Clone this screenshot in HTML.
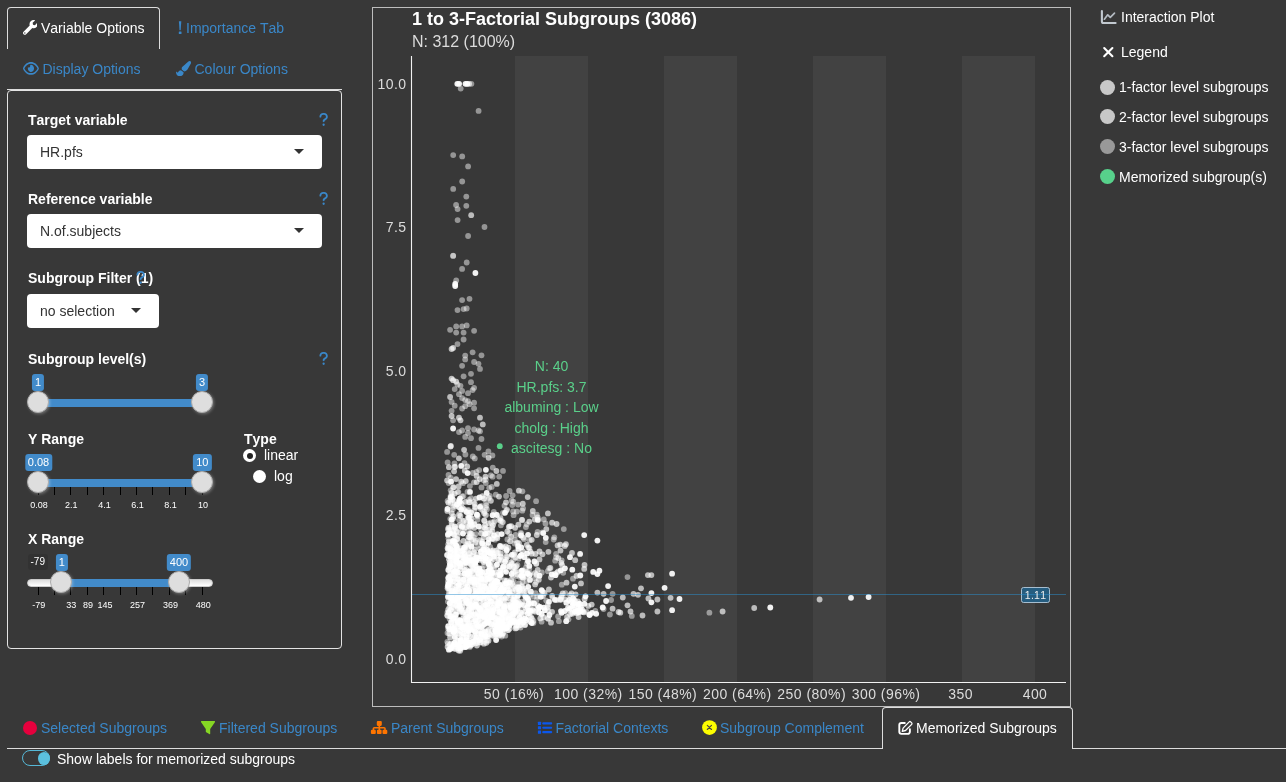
<!DOCTYPE html>
<html>
<head>
<meta charset="utf-8">
<title>Subgroup Explorer</title>
<style>
*{box-sizing:border-box;}
html,body{margin:0;padding:0;}
body{width:1286px;height:782px;overflow:hidden;background:#383838;color:#fff;font-family:"Liberation Sans",sans-serif;font-size:14px;line-height:20px;position:relative;font-kerning:none;}
.abs{position:absolute;}
.t{position:absolute;white-space:nowrap;line-height:20px;}
.blue{color:#3a87c8;}
.b{font-weight:bold;}
.tabact{position:absolute;border:1px solid #ddd;border-bottom:none;border-radius:4px 4px 0 0;}
.hline{position:absolute;height:1px;background:#ddd;}
.well{position:absolute;left:7px;top:90px;width:335px;height:559px;border:1px solid #e3e3e3;border-radius:4px;}
.sel{position:absolute;background:#fff;border-radius:4px;color:#333;height:34px;}
.sel span{position:absolute;left:13px;top:7px;line-height:20px;white-space:nowrap;}
.caret{position:absolute;width:0;height:0;border-left:5px solid transparent;border-right:5px solid transparent;border-top:5px solid #333;}
.trk{position:absolute;height:8px;border-radius:4px;background:linear-gradient(#dedede,#fff);border:1px solid #ccc;}
.bar{position:absolute;height:8px;background:#428bca;}
.hnd{position:absolute;width:22px;height:22px;border-radius:11px;background:#dedede;border:1px solid #ababab;box-shadow:1px 1px 3px rgba(255,255,255,0.3);}
.tag{position:absolute;background:#428bca;color:#fff;font-size:11px;line-height:14.66px;height:16.66px;padding:1px 3px;border-radius:3px;white-space:nowrap;transform:translateX(-50%);}
.mn{position:absolute;background:rgba(0,0,0,0.1);color:#fff;font-size:10px;line-height:13.33px;padding:1px 3px;border-radius:3px;white-space:nowrap;}
.gl{position:absolute;font-size:9px;line-height:10px;color:#fff;white-space:nowrap;transform:translateX(-50%);}
.tick{position:absolute;width:1px;height:8px;background:#000;}
.rad{position:absolute;width:13px;height:13px;border-radius:50%;background:#fff;}
.dot{position:absolute;border-radius:50%;}
</style>
</head>
<body>
<div id="root" style="position:absolute;left:0;top:0;width:1286px;height:782px;will-change:transform;">
<!-- ===== LEFT TOP TABS ===== -->
<div class="tabact" style="left:7px;top:7px;width:153px;height:42px;"></div>
<div class="hline" style="left:7px;top:89px;width:335px;"></div>
<svg class="abs" style="left:22.6px;top:20.2px;" width="14.8" height="14.8" viewBox="0 0 512 512"><path fill="#fff" d="M507.73 109.1c-2.24-9.03-13.54-12.09-20.12-5.51l-74.36 74.36-67.88-11.31-11.31-67.88 74.36-74.36c6.62-6.62 3.43-17.9-5.66-20.16-47.38-11.74-99.55.91-136.58 37.93-39.64 39.64-50.55 97.1-34.05 147.2L18.74 402.76c-24.99 24.99-24.99 65.51 0 90.5 24.99 24.99 65.51 24.99 90.5 0l213.21-213.21c50.12 16.71 107.47 5.68 147.37-34.22 37.07-37.07 49.7-89.32 37.91-136.73zM64 472c-13.25 0-24-10.75-24-24 0-13.26 10.750-24 24-24s24 10.740 24 24c0 13.250-10.750 24-24 24z"/></svg>
<div class="t" style="left:41px;top:18px;">Variable Options</div>
<svg class="abs" style="left:177px;top:20px;" width="7" height="15" viewBox="0 0 7 15"><path fill="#3a87c8" d="M1.900 1.200H4.300L3.650 10.300H2.550Z"/><rect x="1.800" y="11.600" width="2.700" height="2.500" rx=".5" fill="#3a87c8"/></svg>
<div class="t blue" style="left:186px;top:18px;">Importance Tab</div>
<svg class="abs" style="left:23px;top:60px;" width="15.9" height="16.8" viewBox="0 0 576 512" preserveAspectRatio="none"><path fill="#3a87c8" d="M288 144a110.940 110.940 0 0 0-31.240 5 55.400 55.400 0 0 1 7.240 27 56 56 0 0 1-56 56 55.400 55.400 0 0 1-27-7.240A111.710 111.710 0 1 0 288 144zm284.520 97.400C518.290 135.590 410.930 64 288 64S57.680 135.640 3.480 241.410a32.350 32.350 0 0 0 0 29.190C57.710 376.410 165.070 448 288 448s230.320-71.640 284.520-177.410a32.350 32.350 0 0 0 0-29.190zM288 400c-98.650 0-189.090-55-237.930-144C98.910 167 189.340 112 288 112s189.090 55 237.930 144C477.100 345 386.660 400 288 400z"/></svg>
<div class="t blue" style="left:42.5px;top:59px;">Display Options</div>
<svg class="abs" style="left:176.2px;top:61.3px;" width="15.2" height="15.2" viewBox="0 0 512 512"><path fill="#3a87c8" d="M167.020 309.340c-40.120 2.580-76.530 17.860-97.190 72.300-2.350 6.210-8 9.980-14.590 9.980-11.110 0-45.460-27.670-55.250-34.350C0 439.620 37.930 512 128 512c75.860 0 128-43.770 128-120.190 0-3.110-.65-6.080-.97-9.130l-88.010-73.340zM457.890 0c-15.160 0-29.370 6.710-40.210 16.450C213.270 199.050 192 203.340 192 257.090c0 13.700 3.250 26.760 8.730 38.700l63.820 53.180c7.210 1.800 14.640 3.030 22.390 3.030 62.110 0 98.110-45.470 211.160-256.460 7.380-14.350 13.900-29.850 13.900-45.990C512 20.640 486 0 457.890 0z"/></svg>
<div class="t blue" style="left:194.5px;top:59px;">Colour Options</div>

<!-- ===== WELL PANEL ===== -->
<div class="well"></div>
<div class="t b" style="left:28px;top:110px;">Target variable</div>
<div class="sel" style="left:27px;top:135px;width:295px;"><span>HR.pfs</span></div>
<div class="caret" style="left:294px;top:149px;"></div>
<div class="t b" style="left:28px;top:189px;">Reference variable</div>
<div class="sel" style="left:27px;top:214px;width:295px;"><span>N.of.subjects</span></div>
<div class="caret" style="left:294px;top:228px;"></div>
<div class="t b" style="left:28px;top:268px;">Subgroup Filter (1)</div>
<div class="sel" style="left:27px;top:294px;width:132px;"><span>no selection</span></div>
<div class="caret" style="left:131px;top:308px;"></div>
<div class="t b" style="left:28px;top:349px;">Subgroup level(s)</div>
<div class="t b" style="left:28px;top:429px;">Y Range</div>
<div class="t b" style="left:244px;top:429px;">Type</div>
<div class="rad" style="left:243px;top:449px;"><div class="dot" style="left:3.5px;top:3.5px;width:6px;height:6px;background:#222;"></div></div>
<div class="t" style="left:264px;top:445px;">linear</div>
<div class="rad" style="left:253px;top:470px;"></div>
<div class="t" style="left:274px;top:466px;">log</div>
<div class="t b" style="left:28px;top:529px;">X Range</div>

<!-- question marks -->
<svg class="abs" style="left:319.3px;top:112.2px;" width="9.28" height="14.85" viewBox="0 0 320 512"><path id="qm" fill="#3a87c8" d="M80 160c0-35.300 28.700-64 64-64h32c35.300 0 64 28.700 64 64v3.600c0 21.800-11.100 42.100-29.400 53.800l-42.200 27.100c-25.200 16.200-40.400 44.100-40.400 74V320c0 17.700 14.300 32 32 32s32-14.300 32-32v-1.400c0-8.200 4.200-15.800 11-20.200l42.200-27.100c36.600-23.600 58.800-64.100 58.800-107.700V160c0-70.700-57.300-128-128-128H144C73.300 32 16 89.300 16 160c0 17.700 14.300 32 32 32s32-14.300 32-32zm80 320a40 40 0 1 0 0-80 40 40 0 1 0 0 80z"/></svg>
<svg class="abs" style="left:319.3px;top:191.2px;" width="9.28" height="14.85" viewBox="0 0 320 512"><use href="#qm"/></svg>
<svg class="abs" style="left:319.3px;top:351.2px;" width="9.28" height="14.85" viewBox="0 0 320 512"><use href="#qm"/></svg>
<svg class="abs" style="left:136.4px;top:270.1px;" width="9.28" height="14.85" viewBox="0 0 320 512"><use href="#qm"/></svg>

<!-- slider: subgroup levels -->
<div class="bar" style="left:38px;top:399px;width:164px;"></div>
<div class="hnd" style="left:27px;top:391px;"></div>
<div class="hnd" style="left:191px;top:391px;"></div>
<div class="tag" style="left:38px;top:374.4px;">1</div>
<div class="tag" style="left:202px;top:374.4px;">3</div>

<!-- slider: Y range -->
<div class="bar" style="left:38px;top:479px;width:164px;"></div>
<div class="tick" style="left:37.5px;top:487px;"></div><div class="tick" style="left:53.9px;top:487px;"></div><div class="tick" style="left:70.3px;top:487px;"></div><div class="tick" style="left:86.7px;top:487px;"></div><div class="tick" style="left:103.1px;top:487px;"></div><div class="tick" style="left:119.5px;top:487px;"></div><div class="tick" style="left:135.9px;top:487px;"></div><div class="tick" style="left:152.3px;top:487px;"></div><div class="tick" style="left:168.7px;top:487px;"></div><div class="tick" style="left:185.1px;top:487px;"></div><div class="tick" style="left:201.5px;top:487px;"></div>
<div class="hnd" style="left:27px;top:471px;"></div>
<div class="hnd" style="left:191px;top:471px;"></div>
<div class="tag" style="left:38.5px;top:454.4px;">0.08</div>
<div class="tag" style="left:202.3px;top:454.4px;">10</div>
<div class="gl" style="left:39px;top:499.5px;">0.08</div>
<div class="gl" style="left:71.3px;top:499.5px;">2.1</div>
<div class="gl" style="left:104.4px;top:499.5px;">4.1</div>
<div class="gl" style="left:137.4px;top:499.5px;">6.1</div>
<div class="gl" style="left:170.4px;top:499.5px;">8.1</div>
<div class="gl" style="left:203px;top:499.5px;">10</div>

<!-- slider: X range -->
<div class="trk" style="left:27px;top:579px;width:186px;"></div>
<div class="bar" style="left:61px;top:579px;width:118px;"></div>
<div class="tick" style="left:37.5px;top:587px;"></div><div class="tick" style="left:53.9px;top:587px;"></div><div class="tick" style="left:70.3px;top:587px;"></div><div class="tick" style="left:86.7px;top:587px;"></div><div class="tick" style="left:103.1px;top:587px;"></div><div class="tick" style="left:119.5px;top:587px;"></div><div class="tick" style="left:135.9px;top:587px;"></div><div class="tick" style="left:152.3px;top:587px;"></div><div class="tick" style="left:168.7px;top:587px;"></div><div class="tick" style="left:185.1px;top:587px;"></div><div class="tick" style="left:201.5px;top:587px;"></div>
<div class="hnd" style="left:50px;top:571px;"></div>
<div class="hnd" style="left:168px;top:571px;"></div>
<div class="mn" style="left:27.5px;top:554.2px;">-79</div>
<div class="tag" style="left:61.8px;top:554.2px;">1</div>
<div class="tag" style="left:179px;top:554.2px;">400</div>
<div class="gl" style="left:38.7px;top:599.5px;">-79</div>
<div class="gl" style="left:71.3px;top:599.5px;">33</div>
<div class="gl" style="left:88px;top:599.5px;">89</div>
<div class="gl" style="left:105px;top:599.5px;">145</div>
<div class="gl" style="left:137.4px;top:599.5px;">257</div>
<div class="gl" style="left:170.5px;top:599.5px;">369</div>
<div class="gl" style="left:203.2px;top:599.5px;">480</div>

<!-- ===== PLOT ===== -->
<svg id="plot" class="abs" style="left:372px;top:7px;" width="699" height="700" viewBox="372 7 699 700" font-family="Liberation Sans, sans-serif">
<style>#plot circle.b{fill:#fff;fill-opacity:.93}#plot circle.s{fill:#fff;fill-opacity:.66}#plot circle.d{fill:#fff;fill-opacity:.47}#plot circle{r:2.9px}</style>
<rect x="372.500" y="7.500" width="698" height="699" fill="none" stroke="#bdbdbd" stroke-width="1"/>
<g fill="#424242"><rect x="515" y="56" width="73" height="626"/><rect x="664" y="56" width="73" height="626"/><rect x="813" y="56" width="73" height="626"/><rect x="962" y="56" width="73" height="626"/></g>
<text x="412" y="24.700" font-size="18" font-weight="bold" fill="#fff">1 to 3-Factorial Subgroups (3086)</text>
<text x="412" y="47" font-size="16" fill="#dcdcdc">N: 312 (100%)</text>
<g font-size="14" fill="#dcdcdc" text-anchor="end" letter-spacing="0.4">
<text x="406.4" y="88.700">10.0</text><text x="406.4" y="232.400">7.5</text><text x="406.4" y="376.200">5.0</text><text x="406.4" y="519.900">2.5</text><text x="406.4" y="663.600">0.0</text>
</g>
<g font-size="14" fill="#dcdcdc" text-anchor="middle" letter-spacing="0.45">
<text x="514" y="698.500">50 (16%)</text><text x="588.400" y="698.500">100 (32%)</text><text x="662.900" y="698.500">150 (48%)</text><text x="737.300" y="698.500">200 (64%)</text><text x="811.700" y="698.500">250 (80%)</text><text x="886.100" y="698.500">300 (96%)</text><text x="960.600" y="698.500">350</text><text x="1035" y="698.500">400</text>
</g>
<g>
<circle class="b" cx="503.0" cy="566.8"/>
<circle class="b" cx="573.4" cy="603.3"/>
<circle class="s" cx="475.5" cy="607.8"/>
<circle class="s" cx="529.4" cy="548.1"/>
<circle class="d" cx="521.2" cy="534.0"/>
<circle class="s" cx="521.7" cy="614.8"/>
<circle class="s" cx="458.2" cy="554.5"/>
<circle class="d" cx="536.5" cy="600.0"/>
<circle class="d" cx="447.3" cy="641.8"/>
<circle class="d" cx="536.5" cy="575.0"/>
<circle class="d" cx="475.0" cy="630.8"/>
<circle class="d" cx="499.0" cy="630.6"/>
<circle class="b" cx="484.3" cy="595.7"/>
<circle class="s" cx="494.2" cy="606.1"/>
<circle class="s" cx="495.5" cy="572.5"/>
<circle class="d" cx="450.8" cy="478.0"/>
<circle class="s" cx="499.3" cy="519.9"/>
<circle class="d" cx="469.9" cy="553.1"/>
<circle class="s" cx="457.2" cy="589.7"/>
<circle class="d" cx="496.7" cy="634.8"/>
<circle class="d" cx="490.3" cy="572.6"/>
<circle class="d" cx="494.3" cy="624.1"/>
<circle class="d" cx="492.4" cy="455.4"/>
<circle class="s" cx="519.3" cy="590.2"/>
<circle class="s" cx="504.3" cy="628.5"/>
<circle class="s" cx="517.8" cy="615.2"/>
<circle class="d" cx="498.1" cy="618.9"/>
<circle class="d" cx="472.8" cy="599.0"/>
<circle class="d" cx="459.7" cy="564.8"/>
<circle class="s" cx="500.9" cy="520.8"/>
<circle class="d" cx="476.0" cy="638.4"/>
<circle class="d" cx="520.5" cy="627.5"/>
<circle class="d" cx="574.7" cy="603.1"/>
<circle class="d" cx="452.7" cy="570.4"/>
<circle class="d" cx="502.6" cy="608.5"/>
<circle class="d" cx="524.8" cy="618.7"/>
<circle class="s" cx="542.3" cy="591.3"/>
<circle class="d" cx="482.9" cy="609.9"/>
<circle class="d" cx="491.8" cy="551.0"/>
<circle class="s" cx="530.9" cy="617.0"/>
<circle class="s" cx="506.6" cy="580.7"/>
<circle class="s" cx="583.1" cy="611.8"/>
<circle class="s" cx="499.8" cy="630.2"/>
<circle class="b" cx="448.6" cy="612.4"/>
<circle class="d" cx="506.5" cy="623.2"/>
<circle class="d" cx="448.1" cy="628.6"/>
<circle class="d" cx="501.3" cy="559.9"/>
<circle class="b" cx="574.8" cy="586.6"/>
<circle class="b" cx="492.2" cy="572.4"/>
<circle class="d" cx="516.1" cy="570.5"/>
<circle class="d" cx="502.9" cy="592.2"/>
<circle class="s" cx="491.6" cy="574.3"/>
<circle class="d" cx="465.3" cy="557.5"/>
<circle class="b" cx="456.7" cy="561.2"/>
<circle class="b" cx="498.1" cy="631.8"/>
<circle class="d" cx="459.3" cy="513.9"/>
<circle class="s" cx="449.1" cy="533.5"/>
<circle class="d" cx="447.6" cy="500.9"/>
<circle class="d" cx="495.1" cy="514.4"/>
<circle class="b" cx="520.6" cy="620.9"/>
<circle class="d" cx="500.7" cy="576.8"/>
<circle class="s" cx="457.0" cy="539.2"/>
<circle class="b" cx="470.1" cy="580.4"/>
<circle class="d" cx="520.2" cy="589.5"/>
<circle class="s" cx="471.3" cy="539.5"/>
<circle class="s" cx="490.0" cy="604.6"/>
<circle class="d" cx="453.6" cy="540.6"/>
<circle class="d" cx="499.2" cy="476.6"/>
<circle class="s" cx="461.2" cy="481.7"/>
<circle class="b" cx="478.8" cy="526.4"/>
<circle class="s" cx="518.7" cy="621.3"/>
<circle class="s" cx="476.6" cy="569.6"/>
<circle class="s" cx="556.7" cy="600.1"/>
<circle class="d" cx="469.6" cy="622.9"/>
<circle class="s" cx="558.3" cy="558.1"/>
<circle class="d" cx="516.4" cy="602.1"/>
<circle class="d" cx="498.4" cy="548.8"/>
<circle class="s" cx="501.1" cy="557.1"/>
<circle class="s" cx="480.4" cy="605.1"/>
<circle class="s" cx="487.7" cy="607.9"/>
<circle class="s" cx="500.8" cy="626.9"/>
<circle class="b" cx="470.7" cy="629.2"/>
<circle class="s" cx="466.1" cy="569.3"/>
<circle class="d" cx="452.9" cy="509.3"/>
<circle class="s" cx="455.4" cy="575.1"/>
<circle class="d" cx="469.7" cy="512.8"/>
<circle class="d" cx="478.7" cy="614.0"/>
<circle class="b" cx="489.2" cy="559.2"/>
<circle class="s" cx="476.6" cy="475.9"/>
<circle class="s" cx="479.4" cy="625.9"/>
<circle class="d" cx="466.0" cy="596.2"/>
<circle class="s" cx="522.9" cy="588.5"/>
<circle class="d" cx="543.8" cy="519.4"/>
<circle class="b" cx="596.2" cy="613.8"/>
<circle class="s" cx="450.2" cy="548.9"/>
<circle class="d" cx="469.8" cy="577.9"/>
<circle class="s" cx="522.8" cy="570.3"/>
<circle class="b" cx="454.9" cy="630.9"/>
<circle class="d" cx="547.6" cy="618.1"/>
<circle class="d" cx="448.0" cy="578.3"/>
<circle class="s" cx="522.9" cy="551.3"/>
<circle class="d" cx="484.2" cy="556.8"/>
<circle class="s" cx="477.4" cy="613.0"/>
<circle class="s" cx="460.9" cy="585.1"/>
<circle class="s" cx="560.2" cy="544.6"/>
<circle class="b" cx="465.4" cy="642.2"/>
<circle class="d" cx="503.4" cy="569.7"/>
<circle class="d" cx="514.6" cy="543.6"/>
<circle class="d" cx="462.8" cy="639.8"/>
<circle class="b" cx="493.4" cy="594.0"/>
<circle class="d" cx="469.4" cy="532.3"/>
<circle class="s" cx="473.4" cy="568.2"/>
<circle class="d" cx="470.2" cy="579.0"/>
<circle class="d" cx="561.4" cy="595.7"/>
<circle class="d" cx="529.3" cy="568.8"/>
<circle class="d" cx="477.4" cy="519.7"/>
<circle class="s" cx="525.0" cy="624.9"/>
<circle class="b" cx="515.1" cy="620.6"/>
<circle class="d" cx="465.5" cy="561.3"/>
<circle class="d" cx="469.2" cy="596.7"/>
<circle class="d" cx="476.4" cy="471.9"/>
<circle class="d" cx="490.3" cy="553.5"/>
<circle class="d" cx="467.7" cy="619.7"/>
<circle class="s" cx="499.5" cy="624.1"/>
<circle class="b" cx="448.4" cy="584.0"/>
<circle class="d" cx="486.0" cy="503.0"/>
<circle class="s" cx="570.1" cy="595.1"/>
<circle class="s" cx="526.3" cy="590.8"/>
<circle class="b" cx="496.6" cy="625.8"/>
<circle class="d" cx="475.8" cy="540.7"/>
<circle class="s" cx="469.7" cy="600.1"/>
<circle class="d" cx="490.8" cy="575.9"/>
<circle class="s" cx="456.7" cy="531.5"/>
<circle class="s" cx="454.6" cy="526.4"/>
<circle class="b" cx="457.3" cy="549.9"/>
<circle class="s" cx="490.9" cy="566.7"/>
<circle class="d" cx="468.2" cy="509.9"/>
<circle class="s" cx="503.0" cy="590.9"/>
<circle class="d" cx="536.1" cy="501.2"/>
<circle class="d" cx="477.1" cy="579.1"/>
<circle class="s" cx="533.6" cy="610.7"/>
<circle class="b" cx="500.8" cy="603.6"/>
<circle class="s" cx="458.9" cy="458.3"/>
<circle class="d" cx="514.9" cy="540.0"/>
<circle class="d" cx="484.5" cy="498.5"/>
<circle class="b" cx="524.4" cy="557.2"/>
<circle class="d" cx="480.7" cy="552.0"/>
<circle class="s" cx="454.9" cy="630.6"/>
<circle class="s" cx="509.6" cy="624.9"/>
<circle class="b" cx="496.9" cy="581.4"/>
<circle class="d" cx="471.0" cy="571.2"/>
<circle class="s" cx="552.1" cy="522.7"/>
<circle class="b" cx="496.0" cy="581.2"/>
<circle class="d" cx="482.4" cy="510.1"/>
<circle class="s" cx="480.6" cy="579.6"/>
<circle class="d" cx="515.9" cy="576.2"/>
<circle class="b" cx="504.1" cy="609.1"/>
<circle class="s" cx="463.5" cy="591.2"/>
<circle class="b" cx="494.7" cy="596.5"/>
<circle class="b" cx="519.1" cy="605.3"/>
<circle class="d" cx="456.7" cy="562.7"/>
<circle class="d" cx="464.2" cy="509.3"/>
<circle class="s" cx="470.1" cy="598.4"/>
<circle class="b" cx="481.2" cy="556.4"/>
<circle class="b" cx="566.2" cy="621.2"/>
<circle class="s" cx="561.3" cy="562.8"/>
<circle class="s" cx="584.5" cy="564.9"/>
<circle class="s" cx="538.8" cy="579.7"/>
<circle class="s" cx="473.1" cy="606.5"/>
<circle class="s" cx="511.1" cy="562.3"/>
<circle class="d" cx="449.9" cy="527.6"/>
<circle class="s" cx="447.1" cy="480.4"/>
<circle class="d" cx="486.8" cy="601.9"/>
<circle class="d" cx="514.4" cy="611.3"/>
<circle class="b" cx="462.3" cy="627.2"/>
<circle class="d" cx="511.6" cy="500.5"/>
<circle class="d" cx="469.6" cy="606.0"/>
<circle class="d" cx="448.3" cy="533.6"/>
<circle class="d" cx="453.0" cy="487.7"/>
<circle class="s" cx="456.1" cy="479.1"/>
<circle class="b" cx="470.0" cy="491.9"/>
<circle class="d" cx="536.2" cy="582.1"/>
<circle class="b" cx="474.5" cy="595.2"/>
<circle class="d" cx="481.1" cy="505.8"/>
<circle class="s" cx="468.6" cy="609.9"/>
<circle class="s" cx="509.2" cy="619.0"/>
<circle class="d" cx="573.3" cy="609.7"/>
<circle class="d" cx="541.6" cy="621.7"/>
<circle class="b" cx="494.5" cy="582.6"/>
<circle class="d" cx="484.1" cy="638.9"/>
<circle class="s" cx="537.6" cy="517.5"/>
<circle class="b" cx="475.0" cy="605.0"/>
<circle class="b" cx="488.6" cy="570.7"/>
<circle class="s" cx="476.1" cy="581.8"/>
<circle class="s" cx="511.2" cy="526.2"/>
<circle class="s" cx="479.8" cy="479.1"/>
<circle class="d" cx="471.6" cy="525.5"/>
<circle class="s" cx="463.5" cy="540.8"/>
<circle class="s" cx="452.5" cy="626.9"/>
<circle class="s" cx="459.7" cy="626.9"/>
<circle class="d" cx="521.9" cy="593.3"/>
<circle class="s" cx="504.5" cy="607.6"/>
<circle class="s" cx="463.5" cy="637.0"/>
<circle class="d" cx="581.6" cy="611.4"/>
<circle class="d" cx="457.4" cy="536.5"/>
<circle class="d" cx="458.1" cy="582.5"/>
<circle class="s" cx="509.5" cy="592.5"/>
<circle class="d" cx="450.0" cy="567.6"/>
<circle class="d" cx="507.3" cy="588.9"/>
<circle class="b" cx="476.6" cy="580.2"/>
<circle class="d" cx="458.4" cy="632.8"/>
<circle class="d" cx="474.3" cy="586.1"/>
<circle class="s" cx="491.2" cy="584.6"/>
<circle class="d" cx="482.9" cy="625.3"/>
<circle class="d" cx="491.5" cy="635.7"/>
<circle class="d" cx="498.9" cy="611.6"/>
<circle class="s" cx="473.0" cy="577.2"/>
<circle class="d" cx="464.0" cy="563.0"/>
<circle class="s" cx="535.1" cy="584.4"/>
<circle class="d" cx="498.8" cy="572.7"/>
<circle class="s" cx="451.9" cy="496.4"/>
<circle class="d" cx="478.0" cy="545.7"/>
<circle class="s" cx="512.3" cy="617.0"/>
<circle class="s" cx="502.2" cy="584.4"/>
<circle class="d" cx="466.0" cy="544.8"/>
<circle class="d" cx="486.4" cy="505.5"/>
<circle class="s" cx="486.4" cy="575.9"/>
<circle class="s" cx="478.8" cy="574.4"/>
<circle class="s" cx="514.5" cy="604.1"/>
<circle class="s" cx="452.9" cy="646.9"/>
<circle class="b" cx="460.3" cy="563.4"/>
<circle class="d" cx="460.1" cy="623.7"/>
<circle class="d" cx="541.8" cy="572.5"/>
<circle class="s" cx="466.2" cy="527.3"/>
<circle class="s" cx="458.5" cy="630.9"/>
<circle class="s" cx="560.5" cy="599.1"/>
<circle class="d" cx="469.4" cy="643.1"/>
<circle class="d" cx="496.5" cy="610.6"/>
<circle class="s" cx="451.3" cy="643.5"/>
<circle class="d" cx="523.1" cy="508.5"/>
<circle class="d" cx="494.2" cy="566.1"/>
<circle class="s" cx="515.4" cy="628.4"/>
<circle class="s" cx="497.6" cy="591.9"/>
<circle class="d" cx="457.3" cy="557.6"/>
<circle class="b" cx="501.1" cy="593.8"/>
<circle class="s" cx="475.6" cy="643.3"/>
<circle class="b" cx="549.4" cy="615.0"/>
<circle class="d" cx="451.7" cy="597.8"/>
<circle class="d" cx="525.8" cy="597.6"/>
<circle class="d" cx="497.9" cy="534.7"/>
<circle class="d" cx="577.3" cy="606.7"/>
<circle class="d" cx="464.3" cy="570.8"/>
<circle class="b" cx="481.0" cy="574.5"/>
<circle class="d" cx="450.4" cy="551.7"/>
<circle class="s" cx="468.1" cy="623.3"/>
<circle class="s" cx="456.7" cy="586.3"/>
<circle class="s" cx="522.5" cy="577.2"/>
<circle class="b" cx="528.0" cy="599.3"/>
<circle class="b" cx="486.5" cy="588.7"/>
<circle class="d" cx="496.0" cy="601.1"/>
<circle class="b" cx="580.3" cy="575.5"/>
<circle class="d" cx="475.0" cy="571.3"/>
<circle class="d" cx="472.0" cy="630.1"/>
<circle class="s" cx="463.1" cy="618.5"/>
<circle class="s" cx="453.0" cy="581.3"/>
<circle class="d" cx="466.0" cy="575.5"/>
<circle class="d" cx="484.5" cy="553.3"/>
<circle class="s" cx="476.6" cy="570.6"/>
<circle class="d" cx="454.9" cy="547.5"/>
<circle class="b" cx="487.5" cy="622.5"/>
<circle class="d" cx="466.5" cy="578.4"/>
<circle class="s" cx="515.3" cy="622.7"/>
<circle class="b" cx="522.4" cy="575.5"/>
<circle class="d" cx="514.5" cy="607.9"/>
<circle class="s" cx="575.8" cy="609.7"/>
<circle class="d" cx="464.4" cy="531.6"/>
<circle class="b" cx="469.0" cy="590.5"/>
<circle class="s" cx="451.7" cy="513.2"/>
<circle class="d" cx="507.5" cy="557.1"/>
<circle class="s" cx="508.4" cy="589.3"/>
<circle class="s" cx="547.8" cy="607.3"/>
<circle class="d" cx="500.5" cy="556.4"/>
<circle class="b" cx="549.0" cy="601.8"/>
<circle class="d" cx="575.4" cy="601.9"/>
<circle class="b" cx="469.1" cy="571.5"/>
<circle class="s" cx="504.4" cy="598.7"/>
<circle class="s" cx="576.5" cy="613.2"/>
<circle class="d" cx="469.7" cy="613.2"/>
<circle class="s" cx="497.1" cy="615.0"/>
<circle class="b" cx="545.8" cy="537.8"/>
<circle class="d" cx="493.1" cy="625.7"/>
<circle class="d" cx="497.1" cy="617.5"/>
<circle class="s" cx="497.1" cy="593.7"/>
<circle class="d" cx="462.6" cy="627.4"/>
<circle class="s" cx="589.3" cy="614.3"/>
<circle class="s" cx="540.3" cy="618.4"/>
<circle class="b" cx="578.4" cy="610.4"/>
<circle class="b" cx="528.8" cy="603.5"/>
<circle class="b" cx="539.0" cy="612.5"/>
<circle class="b" cx="530.5" cy="610.6"/>
<circle class="s" cx="572.1" cy="613.7"/>
<circle class="b" cx="471.3" cy="611.4"/>
<circle class="s" cx="524.2" cy="605.1"/>
<circle class="d" cx="450.7" cy="559.6"/>
<circle class="d" cx="494.7" cy="582.3"/>
<circle class="b" cx="500.1" cy="575.0"/>
<circle class="d" cx="461.0" cy="623.0"/>
<circle class="b" cx="554.9" cy="599.8"/>
<circle class="s" cx="459.5" cy="524.9"/>
<circle class="s" cx="588.3" cy="605.9"/>
<circle class="d" cx="496.5" cy="575.4"/>
<circle class="b" cx="460.4" cy="566.8"/>
<circle class="s" cx="475.5" cy="542.4"/>
<circle class="b" cx="475.4" cy="620.2"/>
<circle class="b" cx="526.6" cy="620.0"/>
<circle class="d" cx="473.3" cy="539.3"/>
<circle class="b" cx="492.8" cy="588.2"/>
<circle class="s" cx="531.7" cy="553.7"/>
<circle class="s" cx="513.0" cy="616.2"/>
<circle class="d" cx="473.5" cy="582.1"/>
<circle class="s" cx="488.7" cy="571.2"/>
<circle class="b" cx="540.8" cy="596.8"/>
<circle class="d" cx="500.9" cy="561.1"/>
<circle class="s" cx="492.1" cy="527.5"/>
<circle class="b" cx="489.7" cy="577.9"/>
<circle class="s" cx="455.7" cy="528.8"/>
<circle class="s" cx="454.0" cy="541.2"/>
<circle class="s" cx="461.6" cy="503.8"/>
<circle class="s" cx="522.8" cy="503.7"/>
<circle class="d" cx="491.3" cy="522.4"/>
<circle class="d" cx="480.8" cy="540.6"/>
<circle class="s" cx="571.5" cy="602.0"/>
<circle class="b" cx="511.8" cy="620.7"/>
<circle class="d" cx="514.6" cy="567.1"/>
<circle class="b" cx="451.1" cy="481.7"/>
<circle class="d" cx="535.5" cy="593.2"/>
<circle class="d" cx="471.3" cy="580.2"/>
<circle class="b" cx="528.8" cy="610.8"/>
<circle class="b" cx="469.7" cy="642.3"/>
<circle class="d" cx="468.7" cy="544.4"/>
<circle class="s" cx="449.3" cy="566.9"/>
<circle class="s" cx="460.4" cy="630.5"/>
<circle class="s" cx="453.6" cy="487.2"/>
<circle class="b" cx="459.7" cy="605.4"/>
<circle class="d" cx="465.8" cy="562.1"/>
<circle class="b" cx="496.9" cy="515.0"/>
<circle class="d" cx="454.4" cy="591.7"/>
<circle class="s" cx="472.9" cy="604.2"/>
<circle class="b" cx="466.6" cy="512.1"/>
<circle class="d" cx="464.7" cy="555.4"/>
<circle class="d" cx="479.3" cy="585.2"/>
<circle class="s" cx="511.2" cy="579.8"/>
<circle class="d" cx="452.5" cy="499.4"/>
<circle class="d" cx="509.8" cy="591.9"/>
<circle class="d" cx="513.3" cy="501.7"/>
<circle class="d" cx="454.9" cy="591.6"/>
<circle class="s" cx="498.3" cy="627.1"/>
<circle class="d" cx="479.2" cy="539.8"/>
<circle class="d" cx="533.4" cy="622.9"/>
<circle class="d" cx="455.0" cy="535.5"/>
<circle class="d" cx="507.6" cy="617.3"/>
<circle class="s" cx="497.8" cy="620.1"/>
<circle class="d" cx="473.6" cy="569.4"/>
<circle class="s" cx="516.5" cy="627.9"/>
<circle class="b" cx="486.7" cy="493.0"/>
<circle class="s" cx="511.8" cy="610.2"/>
<circle class="d" cx="485.9" cy="637.3"/>
<circle class="s" cx="450.6" cy="572.9"/>
<circle class="s" cx="477.7" cy="597.0"/>
<circle class="s" cx="536.3" cy="563.4"/>
<circle class="s" cx="480.8" cy="589.4"/>
<circle class="s" cx="572.0" cy="552.9"/>
<circle class="d" cx="486.6" cy="578.7"/>
<circle class="b" cx="495.3" cy="586.2"/>
<circle class="s" cx="561.5" cy="596.7"/>
<circle class="s" cx="514.2" cy="606.3"/>
<circle class="d" cx="502.5" cy="624.9"/>
<circle class="d" cx="455.6" cy="639.5"/>
<circle class="s" cx="476.1" cy="576.7"/>
<circle class="b" cx="467.8" cy="625.9"/>
<circle class="s" cx="522.4" cy="620.1"/>
<circle class="d" cx="518.6" cy="558.7"/>
<circle class="d" cx="486.6" cy="544.9"/>
<circle class="s" cx="468.5" cy="537.1"/>
<circle class="s" cx="484.6" cy="533.8"/>
<circle class="s" cx="462.1" cy="640.5"/>
<circle class="s" cx="457.1" cy="547.4"/>
<circle class="d" cx="454.0" cy="500.6"/>
<circle class="s" cx="471.1" cy="642.3"/>
<circle class="b" cx="485.3" cy="552.9"/>
<circle class="b" cx="474.4" cy="582.8"/>
<circle class="s" cx="474.3" cy="524.3"/>
<circle class="d" cx="523.3" cy="590.5"/>
<circle class="d" cx="468.5" cy="548.2"/>
<circle class="s" cx="466.7" cy="632.8"/>
<circle class="b" cx="564.9" cy="568.3"/>
<circle class="d" cx="488.0" cy="599.9"/>
<circle class="b" cx="540.0" cy="606.8"/>
<circle class="b" cx="527.6" cy="613.6"/>
<circle class="s" cx="451.6" cy="522.8"/>
<circle class="s" cx="462.6" cy="595.4"/>
<circle class="s" cx="459.6" cy="507.3"/>
<circle class="b" cx="447.5" cy="509.0"/>
<circle class="b" cx="455.0" cy="600.0"/>
<circle class="s" cx="455.9" cy="591.9"/>
<circle class="d" cx="479.1" cy="640.3"/>
<circle class="b" cx="543.3" cy="533.1"/>
<circle class="s" cx="482.9" cy="593.0"/>
<circle class="d" cx="556.1" cy="553.8"/>
<circle class="b" cx="513.1" cy="599.8"/>
<circle class="d" cx="483.8" cy="616.5"/>
<circle class="d" cx="481.2" cy="529.7"/>
<circle class="s" cx="478.1" cy="573.2"/>
<circle class="s" cx="474.7" cy="632.8"/>
<circle class="d" cx="512.8" cy="575.8"/>
<circle class="b" cx="493.5" cy="610.0"/>
<circle class="b" cx="579.6" cy="603.6"/>
<circle class="s" cx="447.7" cy="586.6"/>
<circle class="s" cx="516.2" cy="602.3"/>
<circle class="s" cx="456.8" cy="551.1"/>
<circle class="d" cx="495.9" cy="585.6"/>
<circle class="b" cx="569.1" cy="600.0"/>
<circle class="d" cx="573.0" cy="578.7"/>
<circle class="d" cx="460.7" cy="559.1"/>
<circle class="s" cx="482.5" cy="496.1"/>
<circle class="d" cx="502.6" cy="546.5"/>
<circle class="s" cx="493.9" cy="559.1"/>
<circle class="s" cx="487.3" cy="611.4"/>
<circle class="s" cx="463.8" cy="597.1"/>
<circle class="b" cx="459.6" cy="501.9"/>
<circle class="d" cx="505.4" cy="592.7"/>
<circle class="s" cx="453.5" cy="547.5"/>
<circle class="d" cx="526.0" cy="567.4"/>
<circle class="b" cx="502.4" cy="619.5"/>
<circle class="s" cx="525.4" cy="572.5"/>
<circle class="s" cx="568.1" cy="607.9"/>
<circle class="b" cx="490.7" cy="612.0"/>
<circle class="s" cx="471.7" cy="644.3"/>
<circle class="s" cx="468.0" cy="617.6"/>
<circle class="s" cx="456.2" cy="554.9"/>
<circle class="s" cx="485.9" cy="617.4"/>
<circle class="s" cx="548.4" cy="551.8"/>
<circle class="d" cx="503.5" cy="627.3"/>
<circle class="d" cx="462.5" cy="525.9"/>
<circle class="s" cx="578.4" cy="607.2"/>
<circle class="b" cx="566.3" cy="602.7"/>
<circle class="b" cx="450.7" cy="648.8"/>
<circle class="b" cx="475.4" cy="631.7"/>
<circle class="d" cx="475.9" cy="623.1"/>
<circle class="d" cx="453.3" cy="577.6"/>
<circle class="d" cx="483.5" cy="600.6"/>
<circle class="d" cx="469.3" cy="636.4"/>
<circle class="s" cx="503.7" cy="566.6"/>
<circle class="b" cx="541.6" cy="590.1"/>
<circle class="d" cx="455.9" cy="562.0"/>
<circle class="s" cx="500.3" cy="590.5"/>
<circle class="d" cx="476.2" cy="558.2"/>
<circle class="s" cx="485.1" cy="616.1"/>
<circle class="s" cx="514.8" cy="552.4"/>
<circle class="s" cx="479.9" cy="619.0"/>
<circle class="s" cx="568.1" cy="608.0"/>
<circle class="b" cx="461.2" cy="465.9"/>
<circle class="s" cx="497.0" cy="555.7"/>
<circle class="d" cx="483.0" cy="560.6"/>
<circle class="s" cx="466.9" cy="619.9"/>
<circle class="d" cx="517.2" cy="591.7"/>
<circle class="s" cx="491.9" cy="553.4"/>
<circle class="d" cx="454.3" cy="595.6"/>
<circle class="d" cx="483.8" cy="480.3"/>
<circle class="s" cx="457.3" cy="640.3"/>
<circle class="s" cx="512.5" cy="608.8"/>
<circle class="s" cx="484.3" cy="583.5"/>
<circle class="s" cx="458.0" cy="648.4"/>
<circle class="s" cx="490.7" cy="601.4"/>
<circle class="s" cx="513.6" cy="566.4"/>
<circle class="s" cx="496.5" cy="550.6"/>
<circle class="s" cx="460.3" cy="624.4"/>
<circle class="s" cx="465.7" cy="623.5"/>
<circle class="d" cx="452.7" cy="632.0"/>
<circle class="s" cx="519.1" cy="625.5"/>
<circle class="d" cx="504.9" cy="570.0"/>
<circle class="d" cx="470.2" cy="625.9"/>
<circle class="b" cx="458.8" cy="584.6"/>
<circle class="s" cx="465.7" cy="614.6"/>
<circle class="b" cx="476.2" cy="637.1"/>
<circle class="d" cx="499.2" cy="559.4"/>
<circle class="d" cx="546.2" cy="600.6"/>
<circle class="b" cx="478.2" cy="584.9"/>
<circle class="b" cx="463.4" cy="629.2"/>
<circle class="s" cx="578.8" cy="604.3"/>
<circle class="d" cx="486.0" cy="623.9"/>
<circle class="d" cx="502.3" cy="614.4"/>
<circle class="b" cx="449.9" cy="576.4"/>
<circle class="d" cx="498.3" cy="553.0"/>
<circle class="s" cx="510.4" cy="607.2"/>
<circle class="s" cx="465.7" cy="647.1"/>
<circle class="s" cx="534.8" cy="519.6"/>
<circle class="s" cx="575.2" cy="560.2"/>
<circle class="d" cx="448.7" cy="577.4"/>
<circle class="b" cx="450.9" cy="598.2"/>
<circle class="b" cx="451.1" cy="622.2"/>
<circle class="d" cx="489.8" cy="495.9"/>
<circle class="b" cx="475.7" cy="565.7"/>
<circle class="d" cx="512.0" cy="569.4"/>
<circle class="b" cx="506.0" cy="618.0"/>
<circle class="d" cx="477.4" cy="642.8"/>
<circle class="b" cx="469.6" cy="573.2"/>
<circle class="d" cx="448.1" cy="544.3"/>
<circle class="b" cx="500.2" cy="570.3"/>
<circle class="b" cx="464.3" cy="592.8"/>
<circle class="d" cx="481.7" cy="593.8"/>
<circle class="d" cx="517.8" cy="605.3"/>
<circle class="b" cx="479.7" cy="609.6"/>
<circle class="s" cx="453.0" cy="604.3"/>
<circle class="b" cx="527.5" cy="607.1"/>
<circle class="d" cx="511.3" cy="602.0"/>
<circle class="b" cx="463.2" cy="633.6"/>
<circle class="d" cx="494.6" cy="521.0"/>
<circle class="d" cx="496.9" cy="537.1"/>
<circle class="s" cx="450.1" cy="637.4"/>
<circle class="d" cx="586.5" cy="611.6"/>
<circle class="b" cx="494.6" cy="588.1"/>
<circle class="d" cx="497.7" cy="624.7"/>
<circle class="d" cx="457.7" cy="492.1"/>
<circle class="b" cx="504.7" cy="612.2"/>
<circle class="s" cx="508.5" cy="623.7"/>
<circle class="s" cx="492.1" cy="630.7"/>
<circle class="s" cx="515.4" cy="612.4"/>
<circle class="d" cx="460.2" cy="502.4"/>
<circle class="d" cx="471.7" cy="590.0"/>
<circle class="s" cx="476.8" cy="554.8"/>
<circle class="b" cx="463.5" cy="579.5"/>
<circle class="d" cx="450.0" cy="602.3"/>
<circle class="d" cx="460.3" cy="640.8"/>
<circle class="d" cx="479.9" cy="624.4"/>
<circle class="d" cx="480.0" cy="588.4"/>
<circle class="s" cx="447.6" cy="548.2"/>
<circle class="s" cx="487.4" cy="579.1"/>
<circle class="d" cx="513.8" cy="596.6"/>
<circle class="b" cx="541.6" cy="613.9"/>
<circle class="b" cx="482.2" cy="543.5"/>
<circle class="d" cx="457.1" cy="605.3"/>
<circle class="s" cx="454.7" cy="493.6"/>
<circle class="s" cx="507.9" cy="615.3"/>
<circle class="d" cx="531.0" cy="604.9"/>
<circle class="b" cx="518.9" cy="587.5"/>
<circle class="d" cx="467.5" cy="491.8"/>
<circle class="s" cx="471.2" cy="522.2"/>
<circle class="b" cx="456.5" cy="545.8"/>
<circle class="d" cx="469.8" cy="646.9"/>
<circle class="s" cx="488.5" cy="640.7"/>
<circle class="s" cx="448.9" cy="578.2"/>
<circle class="s" cx="454.1" cy="471.3"/>
<circle class="s" cx="474.5" cy="568.1"/>
<circle class="s" cx="491.3" cy="624.4"/>
<circle class="s" cx="469.2" cy="526.4"/>
<circle class="s" cx="466.0" cy="583.5"/>
<circle class="s" cx="464.5" cy="569.8"/>
<circle class="b" cx="451.2" cy="594.7"/>
<circle class="s" cx="471.8" cy="627.5"/>
<circle class="d" cx="512.3" cy="505.0"/>
<circle class="d" cx="489.3" cy="529.7"/>
<circle class="s" cx="467.0" cy="582.6"/>
<circle class="d" cx="513.6" cy="515.2"/>
<circle class="b" cx="476.3" cy="560.5"/>
<circle class="b" cx="505.1" cy="561.6"/>
<circle class="d" cx="468.4" cy="592.5"/>
<circle class="s" cx="471.9" cy="585.4"/>
<circle class="b" cx="539.5" cy="575.7"/>
<circle class="b" cx="528.1" cy="534.8"/>
<circle class="s" cx="487.7" cy="533.3"/>
<circle class="s" cx="500.8" cy="553.5"/>
<circle class="d" cx="488.4" cy="635.8"/>
<circle class="d" cx="506.9" cy="612.5"/>
<circle class="d" cx="501.9" cy="622.0"/>
<circle class="s" cx="457.7" cy="622.9"/>
<circle class="s" cx="495.3" cy="604.3"/>
<circle class="s" cx="514.2" cy="595.9"/>
<circle class="d" cx="452.0" cy="579.3"/>
<circle class="s" cx="478.0" cy="626.5"/>
<circle class="s" cx="468.1" cy="543.5"/>
<circle class="d" cx="473.6" cy="502.0"/>
<circle class="d" cx="492.8" cy="538.4"/>
<circle class="d" cx="455.3" cy="614.5"/>
<circle class="b" cx="448.3" cy="570.0"/>
<circle class="s" cx="477.5" cy="606.3"/>
<circle class="s" cx="476.2" cy="589.0"/>
<circle class="b" cx="473.3" cy="641.7"/>
<circle class="d" cx="539.9" cy="595.8"/>
<circle class="b" cx="578.0" cy="604.4"/>
<circle class="b" cx="489.6" cy="567.7"/>
<circle class="s" cx="462.3" cy="606.7"/>
<circle class="b" cx="480.2" cy="571.2"/>
<circle class="d" cx="513.1" cy="511.5"/>
<circle class="d" cx="496.6" cy="565.5"/>
<circle class="s" cx="474.6" cy="558.8"/>
<circle class="b" cx="482.1" cy="572.1"/>
<circle class="s" cx="463.4" cy="602.5"/>
<circle class="d" cx="521.8" cy="519.9"/>
<circle class="s" cx="507.0" cy="509.8"/>
<circle class="s" cx="465.4" cy="501.8"/>
<circle class="d" cx="457.2" cy="538.6"/>
<circle class="d" cx="475.3" cy="635.6"/>
<circle class="d" cx="469.3" cy="514.8"/>
<circle class="s" cx="474.4" cy="563.4"/>
<circle class="s" cx="482.3" cy="586.5"/>
<circle class="s" cx="475.7" cy="590.8"/>
<circle class="s" cx="449.1" cy="608.1"/>
<circle class="d" cx="474.1" cy="537.4"/>
<circle class="d" cx="526.7" cy="524.3"/>
<circle class="s" cx="517.1" cy="610.1"/>
<circle class="s" cx="470.9" cy="564.0"/>
<circle class="s" cx="461.6" cy="593.1"/>
<circle class="s" cx="464.0" cy="550.0"/>
<circle class="d" cx="547.8" cy="571.2"/>
<circle class="d" cx="473.5" cy="590.3"/>
<circle class="b" cx="499.4" cy="620.7"/>
<circle class="b" cx="494.7" cy="594.8"/>
<circle class="d" cx="505.3" cy="635.7"/>
<circle class="s" cx="454.4" cy="626.9"/>
<circle class="d" cx="493.6" cy="632.8"/>
<circle class="d" cx="451.4" cy="615.6"/>
<circle class="b" cx="476.4" cy="624.0"/>
<circle class="d" cx="478.0" cy="569.1"/>
<circle class="b" cx="497.9" cy="605.3"/>
<circle class="s" cx="475.5" cy="614.8"/>
<circle class="d" cx="513.7" cy="581.7"/>
<circle class="d" cx="477.8" cy="595.7"/>
<circle class="b" cx="479.4" cy="568.4"/>
<circle class="d" cx="486.9" cy="509.2"/>
<circle class="s" cx="512.3" cy="591.4"/>
<circle class="s" cx="448.4" cy="577.6"/>
<circle class="d" cx="454.2" cy="454.8"/>
<circle class="s" cx="519.7" cy="603.7"/>
<circle class="s" cx="511.7" cy="620.8"/>
<circle class="b" cx="510.2" cy="607.6"/>
<circle class="d" cx="512.8" cy="621.8"/>
<circle class="s" cx="499.7" cy="592.6"/>
<circle class="s" cx="450.8" cy="615.9"/>
<circle class="s" cx="483.1" cy="549.1"/>
<circle class="s" cx="502.0" cy="618.2"/>
<circle class="d" cx="462.0" cy="588.9"/>
<circle class="s" cx="487.8" cy="631.4"/>
<circle class="d" cx="495.1" cy="587.3"/>
<circle class="s" cx="454.4" cy="550.8"/>
<circle class="d" cx="470.4" cy="569.8"/>
<circle class="s" cx="458.7" cy="562.4"/>
<circle class="d" cx="450.5" cy="597.0"/>
<circle class="d" cx="506.8" cy="588.9"/>
<circle class="s" cx="566.5" cy="582.7"/>
<circle class="b" cx="462.6" cy="550.5"/>
<circle class="d" cx="491.4" cy="592.1"/>
<circle class="d" cx="469.4" cy="588.9"/>
<circle class="s" cx="448.1" cy="549.4"/>
<circle class="b" cx="471.6" cy="546.7"/>
<circle class="d" cx="503.4" cy="565.7"/>
<circle class="s" cx="459.3" cy="605.7"/>
<circle class="s" cx="578.0" cy="601.5"/>
<circle class="s" cx="461.6" cy="634.4"/>
<circle class="d" cx="501.1" cy="634.7"/>
<circle class="s" cx="468.3" cy="628.1"/>
<circle class="d" cx="475.5" cy="573.1"/>
<circle class="b" cx="527.4" cy="573.5"/>
<circle class="d" cx="555.2" cy="560.7"/>
<circle class="d" cx="503.7" cy="597.3"/>
<circle class="s" cx="515.4" cy="613.0"/>
<circle class="s" cx="466.1" cy="626.2"/>
<circle class="b" cx="529.6" cy="575.0"/>
<circle class="d" cx="466.4" cy="560.0"/>
<circle class="s" cx="500.5" cy="518.2"/>
<circle class="s" cx="514.4" cy="621.3"/>
<circle class="b" cx="454.1" cy="628.4"/>
<circle class="s" cx="454.2" cy="600.7"/>
<circle class="d" cx="482.4" cy="596.5"/>
<circle class="s" cx="504.5" cy="619.9"/>
<circle class="b" cx="479.3" cy="590.9"/>
<circle class="d" cx="450.3" cy="518.8"/>
<circle class="s" cx="456.6" cy="605.4"/>
<circle class="d" cx="499.9" cy="594.3"/>
<circle class="d" cx="580.9" cy="612.2"/>
<circle class="d" cx="570.8" cy="608.6"/>
<circle class="b" cx="453.6" cy="571.9"/>
<circle class="d" cx="519.1" cy="583.3"/>
<circle class="s" cx="483.5" cy="562.0"/>
<circle class="s" cx="499.3" cy="577.9"/>
<circle class="b" cx="485.9" cy="469.8"/>
<circle class="s" cx="529.5" cy="613.2"/>
<circle class="s" cx="471.0" cy="615.9"/>
<circle class="d" cx="500.9" cy="525.3"/>
<circle class="s" cx="455.3" cy="605.5"/>
<circle class="s" cx="454.3" cy="574.9"/>
<circle class="s" cx="492.6" cy="552.4"/>
<circle class="d" cx="483.5" cy="600.6"/>
<circle class="d" cx="449.0" cy="629.6"/>
<circle class="s" cx="460.0" cy="600.2"/>
<circle class="s" cx="476.5" cy="592.8"/>
<circle class="d" cx="492.8" cy="579.5"/>
<circle class="d" cx="490.9" cy="475.3"/>
<circle class="d" cx="470.0" cy="527.3"/>
<circle class="d" cx="470.2" cy="515.9"/>
<circle class="s" cx="468.6" cy="593.9"/>
<circle class="b" cx="451.6" cy="519.6"/>
<circle class="b" cx="530.0" cy="579.9"/>
<circle class="d" cx="493.4" cy="635.7"/>
<circle class="b" cx="561.0" cy="611.1"/>
<circle class="d" cx="476.1" cy="592.1"/>
<circle class="s" cx="499.9" cy="602.9"/>
<circle class="d" cx="521.8" cy="610.7"/>
<circle class="s" cx="508.0" cy="598.0"/>
<circle class="d" cx="459.1" cy="519.8"/>
<circle class="d" cx="474.7" cy="523.9"/>
<circle class="d" cx="503.0" cy="624.1"/>
<circle class="d" cx="537.6" cy="531.9"/>
<circle class="d" cx="499.1" cy="618.6"/>
<circle class="s" cx="510.0" cy="624.1"/>
<circle class="s" cx="494.7" cy="601.1"/>
<circle class="s" cx="453.6" cy="585.4"/>
<circle class="b" cx="484.6" cy="624.1"/>
<circle class="s" cx="517.5" cy="608.8"/>
<circle class="d" cx="470.9" cy="535.9"/>
<circle class="d" cx="453.6" cy="578.3"/>
<circle class="s" cx="471.6" cy="606.7"/>
<circle class="s" cx="460.3" cy="554.3"/>
<circle class="b" cx="509.4" cy="582.4"/>
<circle class="s" cx="490.9" cy="603.6"/>
<circle class="s" cx="514.3" cy="586.3"/>
<circle class="b" cx="450.0" cy="596.6"/>
<circle class="s" cx="557.3" cy="572.3"/>
<circle class="b" cx="465.0" cy="557.9"/>
<circle class="b" cx="570.0" cy="557.2"/>
<circle class="b" cx="602.7" cy="607.5"/>
<circle class="s" cx="576.5" cy="575.9"/>
<circle class="d" cx="514.3" cy="619.0"/>
<circle class="s" cx="460.0" cy="569.6"/>
<circle class="s" cx="490.9" cy="500.8"/>
<circle class="b" cx="483.7" cy="549.6"/>
<circle class="b" cx="453.0" cy="542.9"/>
<circle class="d" cx="472.8" cy="626.0"/>
<circle class="s" cx="509.4" cy="593.3"/>
<circle class="d" cx="472.2" cy="640.3"/>
<circle class="d" cx="487.1" cy="580.3"/>
<circle class="s" cx="476.4" cy="600.6"/>
<circle class="b" cx="476.8" cy="514.7"/>
<circle class="s" cx="452.0" cy="628.9"/>
<circle class="b" cx="528.2" cy="586.8"/>
<circle class="b" cx="465.9" cy="562.7"/>
<circle class="s" cx="495.4" cy="634.5"/>
<circle class="d" cx="482.1" cy="568.4"/>
<circle class="s" cx="492.9" cy="607.8"/>
<circle class="s" cx="474.6" cy="581.5"/>
<circle class="d" cx="480.5" cy="631.3"/>
<circle class="s" cx="448.8" cy="541.6"/>
<circle class="s" cx="514.4" cy="605.3"/>
<circle class="d" cx="478.1" cy="633.3"/>
<circle class="b" cx="501.5" cy="612.7"/>
<circle class="b" cx="454.9" cy="541.8"/>
<circle class="s" cx="476.7" cy="482.1"/>
<circle class="b" cx="466.2" cy="646.6"/>
<circle class="b" cx="491.6" cy="573.2"/>
<circle class="s" cx="462.0" cy="526.7"/>
<circle class="s" cx="464.1" cy="449.8"/>
<circle class="s" cx="515.1" cy="622.3"/>
<circle class="s" cx="527.7" cy="497.1"/>
<circle class="s" cx="500.4" cy="630.2"/>
<circle class="d" cx="485.9" cy="583.5"/>
<circle class="s" cx="500.6" cy="612.7"/>
<circle class="b" cx="468.9" cy="517.7"/>
<circle class="d" cx="480.4" cy="638.7"/>
<circle class="s" cx="479.2" cy="639.8"/>
<circle class="b" cx="503.7" cy="591.1"/>
<circle class="s" cx="453.8" cy="535.0"/>
<circle class="b" cx="578.7" cy="612.3"/>
<circle class="s" cx="485.8" cy="579.5"/>
<circle class="s" cx="450.7" cy="610.3"/>
<circle class="s" cx="491.3" cy="602.0"/>
<circle class="d" cx="455.6" cy="590.2"/>
<circle class="b" cx="489.2" cy="579.1"/>
<circle class="s" cx="501.6" cy="589.1"/>
<circle class="s" cx="464.6" cy="587.5"/>
<circle class="s" cx="509.7" cy="526.4"/>
<circle class="d" cx="482.1" cy="636.6"/>
<circle class="d" cx="459.0" cy="629.3"/>
<circle class="b" cx="530.9" cy="591.7"/>
<circle class="d" cx="482.8" cy="589.5"/>
<circle class="b" cx="534.4" cy="561.4"/>
<circle class="s" cx="512.6" cy="602.4"/>
<circle class="s" cx="524.9" cy="624.8"/>
<circle class="s" cx="451.8" cy="591.0"/>
<circle class="d" cx="481.8" cy="575.5"/>
<circle class="s" cx="554.7" cy="573.8"/>
<circle class="d" cx="458.0" cy="637.5"/>
<circle class="s" cx="466.0" cy="629.2"/>
<circle class="b" cx="514.0" cy="605.0"/>
<circle class="s" cx="464.8" cy="646.9"/>
<circle class="d" cx="479.8" cy="589.9"/>
<circle class="b" cx="574.8" cy="611.7"/>
<circle class="d" cx="492.6" cy="611.9"/>
<circle class="b" cx="506.1" cy="571.8"/>
<circle class="d" cx="447.5" cy="633.0"/>
<circle class="b" cx="505.0" cy="512.8"/>
<circle class="s" cx="502.8" cy="522.1"/>
<circle class="s" cx="504.3" cy="626.2"/>
<circle class="d" cx="509.9" cy="614.8"/>
<circle class="d" cx="512.4" cy="616.3"/>
<circle class="s" cx="512.2" cy="583.5"/>
<circle class="d" cx="504.5" cy="505.7"/>
<circle class="d" cx="485.8" cy="483.1"/>
<circle class="s" cx="483.6" cy="606.1"/>
<circle class="s" cx="484.1" cy="612.5"/>
<circle class="s" cx="489.7" cy="617.1"/>
<circle class="b" cx="500.1" cy="631.6"/>
<circle class="b" cx="499.3" cy="612.5"/>
<circle class="d" cx="527.6" cy="560.2"/>
<circle class="s" cx="508.9" cy="586.5"/>
<circle class="s" cx="492.3" cy="539.1"/>
<circle class="d" cx="448.3" cy="596.1"/>
<circle class="b" cx="518.3" cy="622.5"/>
<circle class="s" cx="476.4" cy="598.0"/>
<circle class="d" cx="537.3" cy="596.6"/>
<circle class="s" cx="458.9" cy="500.3"/>
<circle class="d" cx="460.8" cy="548.5"/>
<circle class="d" cx="484.2" cy="565.7"/>
<circle class="b" cx="458.9" cy="602.6"/>
<circle class="b" cx="460.7" cy="639.7"/>
<circle class="d" cx="464.5" cy="463.1"/>
<circle class="d" cx="484.2" cy="511.4"/>
<circle class="s" cx="500.9" cy="628.1"/>
<circle class="b" cx="479.5" cy="497.5"/>
<circle class="s" cx="530.0" cy="621.5"/>
<circle class="s" cx="497.5" cy="633.7"/>
<circle class="d" cx="462.0" cy="496.5"/>
<circle class="s" cx="503.4" cy="627.8"/>
<circle class="d" cx="467.8" cy="602.3"/>
<circle class="s" cx="458.4" cy="596.0"/>
<circle class="b" cx="497.7" cy="582.0"/>
<circle class="d" cx="469.4" cy="610.8"/>
<circle class="s" cx="470.0" cy="582.3"/>
<circle class="s" cx="447.2" cy="615.3"/>
<circle class="d" cx="507.4" cy="539.5"/>
<circle class="d" cx="534.9" cy="578.6"/>
<circle class="b" cx="453.5" cy="600.2"/>
<circle class="d" cx="495.8" cy="494.7"/>
<circle class="s" cx="453.8" cy="560.9"/>
<circle class="s" cx="492.8" cy="607.7"/>
<circle class="s" cx="513.4" cy="588.5"/>
<circle class="s" cx="490.1" cy="634.6"/>
<circle class="d" cx="517.4" cy="565.0"/>
<circle class="d" cx="503.0" cy="512.9"/>
<circle class="b" cx="459.2" cy="563.7"/>
<circle class="b" cx="573.1" cy="598.5"/>
<circle class="b" cx="480.1" cy="506.9"/>
<circle class="s" cx="487.8" cy="612.9"/>
<circle class="d" cx="469.6" cy="594.8"/>
<circle class="b" cx="484.7" cy="616.0"/>
<circle class="s" cx="454.1" cy="631.1"/>
<circle class="b" cx="492.7" cy="612.9"/>
<circle class="d" cx="558.9" cy="621.2"/>
<circle class="d" cx="500.9" cy="604.7"/>
<circle class="d" cx="466.1" cy="618.4"/>
<circle class="d" cx="462.7" cy="643.2"/>
<circle class="d" cx="458.7" cy="542.5"/>
<circle class="s" cx="456.5" cy="582.5"/>
<circle class="d" cx="489.4" cy="584.9"/>
<circle class="d" cx="537.2" cy="608.2"/>
<circle class="s" cx="487.5" cy="636.5"/>
<circle class="s" cx="484.3" cy="634.6"/>
<circle class="d" cx="450.7" cy="490.3"/>
<circle class="s" cx="454.7" cy="467.0"/>
<circle class="s" cx="509.4" cy="566.9"/>
<circle class="s" cx="472.6" cy="627.8"/>
<circle class="s" cx="463.1" cy="557.5"/>
<circle class="d" cx="467.0" cy="612.2"/>
<circle class="s" cx="451.2" cy="556.2"/>
<circle class="s" cx="497.0" cy="574.9"/>
<circle class="d" cx="454.8" cy="636.3"/>
<circle class="d" cx="455.9" cy="556.1"/>
<circle class="s" cx="458.6" cy="486.4"/>
<circle class="s" cx="481.4" cy="610.4"/>
<circle class="s" cx="480.4" cy="601.0"/>
<circle class="s" cx="482.3" cy="541.9"/>
<circle class="s" cx="510.0" cy="615.9"/>
<circle class="s" cx="581.0" cy="583.4"/>
<circle class="s" cx="485.5" cy="476.7"/>
<circle class="d" cx="458.2" cy="641.0"/>
<circle class="b" cx="505.8" cy="583.6"/>
<circle class="s" cx="478.7" cy="633.9"/>
<circle class="b" cx="467.0" cy="603.1"/>
<circle class="d" cx="491.6" cy="551.9"/>
<circle class="s" cx="489.5" cy="589.2"/>
<circle class="s" cx="511.1" cy="536.7"/>
<circle class="d" cx="508.2" cy="630.2"/>
<circle class="b" cx="468.0" cy="645.0"/>
<circle class="s" cx="485.1" cy="631.4"/>
<circle class="s" cx="468.6" cy="603.4"/>
<circle class="d" cx="507.0" cy="602.3"/>
<circle class="d" cx="473.8" cy="621.9"/>
<circle class="s" cx="481.2" cy="586.0"/>
<circle class="s" cx="482.0" cy="578.6"/>
<circle class="d" cx="502.7" cy="609.5"/>
<circle class="d" cx="533.5" cy="596.4"/>
<circle class="s" cx="453.9" cy="632.6"/>
<circle class="d" cx="496.6" cy="637.9"/>
<circle class="b" cx="454.6" cy="642.7"/>
<circle class="s" cx="528.9" cy="603.6"/>
<circle class="s" cx="451.9" cy="593.3"/>
<circle class="s" cx="454.4" cy="557.4"/>
<circle class="s" cx="453.9" cy="648.2"/>
<circle class="b" cx="487.6" cy="603.9"/>
<circle class="s" cx="450.4" cy="547.8"/>
<circle class="b" cx="453.9" cy="644.3"/>
<circle class="b" cx="467.2" cy="574.8"/>
<circle class="s" cx="491.4" cy="624.5"/>
<circle class="d" cx="520.8" cy="612.7"/>
<circle class="s" cx="487.9" cy="598.7"/>
<circle class="d" cx="463.0" cy="635.1"/>
<circle class="s" cx="483.6" cy="498.5"/>
<circle class="b" cx="467.9" cy="560.3"/>
<circle class="s" cx="499.7" cy="575.0"/>
<circle class="b" cx="529.3" cy="565.9"/>
<circle class="d" cx="494.1" cy="569.4"/>
<circle class="s" cx="525.5" cy="576.5"/>
<circle class="d" cx="470.1" cy="636.2"/>
<circle class="d" cx="512.5" cy="609.6"/>
<circle class="d" cx="509.2" cy="532.9"/>
<circle class="b" cx="482.4" cy="590.5"/>
<circle class="s" cx="469.5" cy="608.0"/>
<circle class="b" cx="455.9" cy="614.6"/>
<circle class="d" cx="469.2" cy="581.5"/>
<circle class="d" cx="533.5" cy="621.0"/>
<circle class="b" cx="447.1" cy="555.0"/>
<circle class="s" cx="466.0" cy="600.0"/>
<circle class="d" cx="522.1" cy="585.3"/>
<circle class="d" cx="461.7" cy="622.7"/>
<circle class="s" cx="471.1" cy="512.6"/>
<circle class="d" cx="487.7" cy="611.8"/>
<circle class="s" cx="482.1" cy="621.7"/>
<circle class="s" cx="450.5" cy="500.7"/>
<circle class="s" cx="469.0" cy="553.4"/>
<circle class="b" cx="487.3" cy="550.0"/>
<circle class="s" cx="515.3" cy="571.6"/>
<circle class="s" cx="481.5" cy="579.5"/>
<circle class="b" cx="506.8" cy="550.0"/>
<circle class="b" cx="523.2" cy="622.6"/>
<circle class="d" cx="501.6" cy="611.1"/>
<circle class="b" cx="511.8" cy="554.8"/>
<circle class="s" cx="498.4" cy="599.2"/>
<circle class="d" cx="515.2" cy="604.1"/>
<circle class="d" cx="469.8" cy="533.9"/>
<circle class="d" cx="447.1" cy="451.9"/>
<circle class="s" cx="468.4" cy="624.3"/>
<circle class="d" cx="481.1" cy="577.9"/>
<circle class="b" cx="508.2" cy="593.0"/>
<circle class="d" cx="478.5" cy="447.9"/>
<circle class="d" cx="491.8" cy="583.9"/>
<circle class="s" cx="453.8" cy="554.5"/>
<circle class="b" cx="464.4" cy="553.1"/>
<circle class="s" cx="461.0" cy="608.5"/>
<circle class="s" cx="454.8" cy="637.6"/>
<circle class="s" cx="451.2" cy="549.7"/>
<circle class="s" cx="453.5" cy="516.5"/>
<circle class="b" cx="457.7" cy="644.9"/>
<circle class="s" cx="539.5" cy="551.5"/>
<circle class="d" cx="484.0" cy="555.2"/>
<circle class="s" cx="552.1" cy="595.8"/>
<circle class="b" cx="475.6" cy="605.9"/>
<circle class="s" cx="464.4" cy="590.5"/>
<circle class="s" cx="462.9" cy="508.5"/>
<circle class="b" cx="470.3" cy="521.5"/>
<circle class="d" cx="457.5" cy="619.1"/>
<circle class="d" cx="455.8" cy="561.3"/>
<circle class="s" cx="471.0" cy="564.8"/>
<circle class="d" cx="502.1" cy="569.7"/>
<circle class="b" cx="457.8" cy="572.4"/>
<circle class="d" cx="536.7" cy="574.4"/>
<circle class="d" cx="544.8" cy="593.0"/>
<circle class="s" cx="468.5" cy="634.0"/>
<circle class="d" cx="448.5" cy="474.9"/>
<circle class="d" cx="447.9" cy="609.8"/>
<circle class="s" cx="518.9" cy="590.7"/>
<circle class="s" cx="458.6" cy="507.1"/>
<circle class="d" cx="482.5" cy="625.8"/>
<circle class="b" cx="450.5" cy="616.5"/>
<circle class="b" cx="501.0" cy="589.7"/>
<circle class="s" cx="494.3" cy="624.1"/>
<circle class="s" cx="468.9" cy="592.1"/>
<circle class="d" cx="522.6" cy="601.6"/>
<circle class="d" cx="475.6" cy="590.4"/>
<circle class="b" cx="450.6" cy="552.2"/>
<circle class="s" cx="499.2" cy="635.2"/>
<circle class="d" cx="483.2" cy="637.1"/>
<circle class="s" cx="560.8" cy="599.8"/>
<circle class="d" cx="494.4" cy="618.6"/>
<circle class="s" cx="515.6" cy="610.1"/>
<circle class="s" cx="508.8" cy="526.9"/>
<circle class="d" cx="458.8" cy="587.8"/>
<circle class="s" cx="530.6" cy="611.6"/>
<circle class="d" cx="520.9" cy="532.8"/>
<circle class="d" cx="447.9" cy="643.7"/>
<circle class="s" cx="484.8" cy="596.3"/>
<circle class="d" cx="515.7" cy="534.9"/>
<circle class="s" cx="459.9" cy="532.7"/>
<circle class="d" cx="468.8" cy="609.4"/>
<circle class="d" cx="458.3" cy="621.9"/>
<circle class="d" cx="468.0" cy="511.0"/>
<circle class="d" cx="471.9" cy="534.0"/>
<circle class="s" cx="500.2" cy="623.7"/>
<circle class="s" cx="491.6" cy="577.0"/>
<circle class="b" cx="495.5" cy="631.5"/>
<circle class="b" cx="490.6" cy="592.1"/>
<circle class="s" cx="460.7" cy="644.1"/>
<circle class="s" cx="556.6" cy="524.0"/>
<circle class="d" cx="502.8" cy="600.0"/>
<circle class="s" cx="494.9" cy="626.3"/>
<circle class="s" cx="460.6" cy="591.8"/>
<circle class="s" cx="500.9" cy="547.1"/>
<circle class="s" cx="480.6" cy="638.7"/>
<circle class="d" cx="457.5" cy="619.4"/>
<circle class="d" cx="495.8" cy="617.6"/>
<circle class="d" cx="464.1" cy="510.4"/>
<circle class="d" cx="526.9" cy="563.5"/>
<circle class="s" cx="527.9" cy="598.3"/>
<circle class="d" cx="473.9" cy="607.9"/>
<circle class="d" cx="447.6" cy="462.4"/>
<circle class="d" cx="545.5" cy="523.5"/>
<circle class="s" cx="516.8" cy="625.2"/>
<circle class="s" cx="467.8" cy="573.2"/>
<circle class="s" cx="506.4" cy="583.2"/>
<circle class="d" cx="501.6" cy="636.6"/>
<circle class="s" cx="498.7" cy="560.0"/>
<circle class="d" cx="503.9" cy="601.2"/>
<circle class="d" cx="456.5" cy="643.4"/>
<circle class="d" cx="485.8" cy="479.5"/>
<circle class="d" cx="490.4" cy="558.2"/>
<circle class="d" cx="512.8" cy="622.8"/>
<circle class="b" cx="466.6" cy="637.2"/>
<circle class="d" cx="484.7" cy="631.9"/>
<circle class="b" cx="538.9" cy="607.6"/>
<circle class="d" cx="468.8" cy="560.1"/>
<circle class="b" cx="482.6" cy="616.6"/>
<circle class="d" cx="554.3" cy="537.3"/>
<circle class="s" cx="484.9" cy="636.5"/>
<circle class="d" cx="464.5" cy="646.9"/>
<circle class="b" cx="495.9" cy="622.5"/>
<circle class="d" cx="518.2" cy="601.1"/>
<circle class="d" cx="503.0" cy="470.9"/>
<circle class="b" cx="449.7" cy="629.1"/>
<circle class="s" cx="469.5" cy="557.6"/>
<circle class="s" cx="504.2" cy="629.0"/>
<circle class="d" cx="477.7" cy="640.9"/>
<circle class="d" cx="484.2" cy="520.8"/>
<circle class="d" cx="470.8" cy="642.8"/>
<circle class="s" cx="518.4" cy="524.7"/>
<circle class="d" cx="525.9" cy="527.1"/>
<circle class="s" cx="550.4" cy="567.9"/>
<circle class="s" cx="471.9" cy="555.9"/>
<circle class="d" cx="482.1" cy="615.4"/>
<circle class="s" cx="459.7" cy="634.2"/>
<circle class="d" cx="507.0" cy="610.7"/>
<circle class="b" cx="455.1" cy="571.2"/>
<circle class="d" cx="450.4" cy="602.8"/>
<circle class="d" cx="544.1" cy="592.8"/>
<circle class="d" cx="513.9" cy="604.5"/>
<circle class="s" cx="461.7" cy="551.3"/>
<circle class="s" cx="507.7" cy="586.9"/>
<circle class="s" cx="480.1" cy="639.8"/>
<circle class="s" cx="471.4" cy="619.0"/>
<circle class="d" cx="491.7" cy="486.9"/>
<circle class="d" cx="595.3" cy="610.9"/>
<circle class="b" cx="451.2" cy="647.2"/>
<circle class="b" cx="488.3" cy="621.6"/>
<circle class="b" cx="484.7" cy="586.6"/>
<circle class="d" cx="563.8" cy="529.1"/>
<circle class="s" cx="465.5" cy="556.3"/>
<circle class="b" cx="460.7" cy="641.9"/>
<circle class="b" cx="525.3" cy="596.1"/>
<circle class="s" cx="455.8" cy="590.0"/>
<circle class="d" cx="483.9" cy="579.2"/>
<circle class="b" cx="580.9" cy="607.4"/>
<circle class="s" cx="448.1" cy="581.7"/>
<circle class="b" cx="537.9" cy="519.9"/>
<circle class="s" cx="457.5" cy="626.6"/>
<circle class="s" cx="455.6" cy="545.1"/>
<circle class="s" cx="467.8" cy="616.7"/>
<circle class="b" cx="447.9" cy="534.7"/>
<circle class="s" cx="477.7" cy="620.7"/>
<circle class="d" cx="473.4" cy="621.5"/>
<circle class="d" cx="486.4" cy="613.9"/>
<circle class="d" cx="460.2" cy="555.2"/>
<circle class="s" cx="484.9" cy="597.9"/>
<circle class="s" cx="485.4" cy="571.9"/>
<circle class="s" cx="502.7" cy="614.4"/>
<circle class="s" cx="467.6" cy="619.4"/>
<circle class="d" cx="489.8" cy="609.3"/>
<circle class="d" cx="465.0" cy="593.8"/>
<circle class="s" cx="509.2" cy="566.2"/>
<circle class="d" cx="455.2" cy="634.1"/>
<circle class="s" cx="457.3" cy="597.3"/>
<circle class="b" cx="488.7" cy="563.3"/>
<circle class="s" cx="488.8" cy="497.9"/>
<circle class="b" cx="489.2" cy="617.6"/>
<circle class="s" cx="470.7" cy="601.4"/>
<circle class="s" cx="491.6" cy="601.1"/>
<circle class="d" cx="470.2" cy="646.0"/>
<circle class="d" cx="490.2" cy="546.9"/>
<circle class="d" cx="480.5" cy="585.2"/>
<circle class="s" cx="461.6" cy="527.4"/>
<circle class="d" cx="468.6" cy="560.8"/>
<circle class="s" cx="452.7" cy="590.7"/>
<circle class="s" cx="548.1" cy="618.8"/>
<circle class="d" cx="558.2" cy="571.4"/>
<circle class="b" cx="486.4" cy="594.1"/>
<circle class="d" cx="514.3" cy="602.4"/>
<circle class="d" cx="474.9" cy="561.2"/>
<circle class="d" cx="456.2" cy="574.1"/>
<circle class="s" cx="505.1" cy="624.0"/>
<circle class="d" cx="460.5" cy="649.9"/>
<circle class="s" cx="466.6" cy="545.7"/>
<circle class="d" cx="460.6" cy="611.8"/>
<circle class="d" cx="473.5" cy="628.1"/>
<circle class="s" cx="448.1" cy="529.2"/>
<circle class="s" cx="454.6" cy="636.1"/>
<circle class="s" cx="497.3" cy="538.2"/>
<circle class="d" cx="506.1" cy="496.0"/>
<circle class="s" cx="582.3" cy="609.6"/>
<circle class="d" cx="471.4" cy="614.9"/>
<circle class="s" cx="510.0" cy="618.7"/>
<circle class="b" cx="448.2" cy="626.2"/>
<circle class="b" cx="466.8" cy="642.6"/>
<circle class="b" cx="551.8" cy="574.3"/>
<circle class="s" cx="452.0" cy="627.5"/>
<circle class="s" cx="503.3" cy="624.1"/>
<circle class="d" cx="512.7" cy="613.5"/>
<circle class="d" cx="463.0" cy="483.2"/>
<circle class="b" cx="544.7" cy="610.2"/>
<circle class="d" cx="516.8" cy="511.6"/>
<circle class="d" cx="487.7" cy="577.8"/>
<circle class="s" cx="496.8" cy="483.9"/>
<circle class="d" cx="505.7" cy="611.7"/>
<circle class="d" cx="454.5" cy="463.5"/>
<circle class="s" cx="473.8" cy="552.2"/>
<circle class="s" cx="455.4" cy="556.0"/>
<circle class="s" cx="490.4" cy="616.9"/>
<circle class="d" cx="450.0" cy="644.4"/>
<circle class="b" cx="506.1" cy="628.3"/>
<circle class="s" cx="503.8" cy="548.1"/>
<circle class="s" cx="448.9" cy="467.2"/>
<circle class="d" cx="456.8" cy="612.3"/>
<circle class="b" cx="453.8" cy="618.5"/>
<circle class="b" cx="485.0" cy="560.5"/>
<circle class="s" cx="476.9" cy="645.6"/>
<circle class="s" cx="511.7" cy="606.4"/>
<circle class="s" cx="453.0" cy="566.7"/>
<circle class="s" cx="570.1" cy="614.3"/>
<circle class="d" cx="475.9" cy="604.8"/>
<circle class="d" cx="501.4" cy="615.0"/>
<circle class="s" cx="470.1" cy="603.8"/>
<circle class="d" cx="470.3" cy="641.3"/>
<circle class="d" cx="502.2" cy="634.9"/>
<circle class="s" cx="537.7" cy="569.8"/>
<circle class="d" cx="490.5" cy="623.3"/>
<circle class="d" cx="467.5" cy="600.4"/>
<circle class="d" cx="474.7" cy="563.4"/>
<circle class="d" cx="493.8" cy="511.9"/>
<circle class="s" cx="474.2" cy="527.9"/>
<circle class="d" cx="464.3" cy="528.2"/>
<circle class="s" cx="480.3" cy="630.8"/>
<circle class="s" cx="507.5" cy="627.3"/>
<circle class="d" cx="477.1" cy="609.4"/>
<circle class="s" cx="480.9" cy="583.0"/>
<circle class="d" cx="501.1" cy="611.5"/>
<circle class="d" cx="484.6" cy="454.8"/>
<circle class="s" cx="516.3" cy="566.2"/>
<circle class="d" cx="500.5" cy="587.1"/>
<circle class="b" cx="493.3" cy="588.1"/>
<circle class="s" cx="451.9" cy="606.9"/>
<circle class="b" cx="491.9" cy="617.5"/>
<circle class="d" cx="463.1" cy="561.6"/>
<circle class="b" cx="499.0" cy="603.0"/>
<circle class="d" cx="457.9" cy="608.1"/>
<circle class="d" cx="515.5" cy="626.4"/>
<circle class="s" cx="521.7" cy="619.8"/>
<circle class="s" cx="471.5" cy="644.8"/>
<circle class="s" cx="484.3" cy="520.5"/>
<circle class="d" cx="498.4" cy="625.6"/>
<circle class="s" cx="506.4" cy="551.0"/>
<circle class="s" cx="478.3" cy="620.2"/>
<circle class="s" cx="460.2" cy="648.3"/>
<circle class="s" cx="578.6" cy="617.1"/>
<circle class="b" cx="491.0" cy="586.0"/>
<circle class="b" cx="478.8" cy="608.1"/>
<circle class="d" cx="471.1" cy="533.6"/>
<circle class="s" cx="465.8" cy="481.1"/>
<circle class="s" cx="450.8" cy="609.5"/>
<circle class="b" cx="464.4" cy="547.3"/>
<circle class="s" cx="551.0" cy="622.7"/>
<circle class="s" cx="480.0" cy="608.2"/>
<circle class="d" cx="499.2" cy="607.3"/>
<circle class="s" cx="531.9" cy="618.6"/>
<circle class="s" cx="455.2" cy="593.9"/>
<circle class="s" cx="523.1" cy="577.7"/>
<circle class="d" cx="465.3" cy="548.3"/>
<circle class="d" cx="490.4" cy="626.5"/>
<circle class="s" cx="475.8" cy="639.9"/>
<circle class="d" cx="572.8" cy="612.4"/>
<circle class="d" cx="451.1" cy="590.9"/>
<circle class="d" cx="514.6" cy="599.9"/>
<circle class="s" cx="502.7" cy="625.2"/>
<circle class="b" cx="493.0" cy="617.1"/>
<circle class="s" cx="507.9" cy="630.1"/>
<circle class="d" cx="474.2" cy="510.1"/>
<circle class="s" cx="478.9" cy="614.3"/>
<circle class="s" cx="496.4" cy="471.0"/>
<circle class="s" cx="510.7" cy="595.3"/>
<circle class="d" cx="522.6" cy="582.0"/>
<circle class="b" cx="527.0" cy="553.4"/>
<circle class="d" cx="481.5" cy="487.4"/>
<circle class="s" cx="473.1" cy="615.0"/>
<circle class="d" cx="487.2" cy="640.6"/>
<circle class="b" cx="518.2" cy="546.2"/>
<circle class="d" cx="495.1" cy="636.3"/>
<circle class="s" cx="469.7" cy="502.2"/>
<circle class="d" cx="458.4" cy="491.8"/>
<circle class="s" cx="488.5" cy="523.5"/>
<circle class="s" cx="497.5" cy="594.1"/>
<circle class="s" cx="466.6" cy="614.5"/>
<circle class="s" cx="525.3" cy="611.3"/>
<circle class="s" cx="453.3" cy="581.3"/>
<circle class="s" cx="520.5" cy="612.6"/>
<circle class="d" cx="509.6" cy="491.0"/>
<circle class="b" cx="481.0" cy="592.6"/>
<circle class="d" cx="488.8" cy="634.1"/>
<circle class="b" cx="481.6" cy="626.8"/>
<circle class="d" cx="522.4" cy="491.3"/>
<circle class="d" cx="552.5" cy="597.9"/>
<circle class="b" cx="497.3" cy="608.9"/>
<circle class="b" cx="476.0" cy="604.6"/>
<circle class="d" cx="490.5" cy="570.2"/>
<circle class="d" cx="512.6" cy="495.3"/>
<circle class="d" cx="449.7" cy="562.5"/>
<circle class="d" cx="480.9" cy="555.9"/>
<circle class="s" cx="591.7" cy="604.6"/>
<circle class="s" cx="502.6" cy="622.3"/>
<circle class="d" cx="448.8" cy="549.1"/>
<circle class="d" cx="507.8" cy="607.8"/>
<circle class="b" cx="466.1" cy="600.0"/>
<circle class="s" cx="510.0" cy="604.9"/>
<circle class="d" cx="469.2" cy="601.6"/>
<circle class="d" cx="522.3" cy="613.1"/>
<circle class="d" cx="520.1" cy="577.0"/>
<circle class="s" cx="539.4" cy="607.3"/>
<circle class="d" cx="494.5" cy="614.7"/>
<circle class="s" cx="531.7" cy="539.8"/>
<circle class="d" cx="470.7" cy="575.7"/>
<circle class="d" cx="464.8" cy="564.5"/>
<circle class="d" cx="513.3" cy="559.4"/>
<circle class="s" cx="495.1" cy="618.4"/>
<circle class="d" cx="479.5" cy="560.1"/>
<circle class="s" cx="470.7" cy="605.0"/>
<circle class="b" cx="463.0" cy="533.6"/>
<circle class="d" cx="545.7" cy="542.1"/>
<circle class="b" cx="459.6" cy="501.2"/>
<circle class="b" cx="488.8" cy="564.2"/>
<circle class="d" cx="462.6" cy="557.0"/>
<circle class="d" cx="464.0" cy="612.1"/>
<circle class="d" cx="481.2" cy="642.2"/>
<circle class="s" cx="458.6" cy="650.4"/>
<circle class="s" cx="528.3" cy="547.3"/>
<circle class="b" cx="579.9" cy="611.2"/>
<circle class="s" cx="460.7" cy="640.8"/>
<circle class="d" cx="455.7" cy="646.5"/>
<circle class="d" cx="455.8" cy="552.5"/>
<circle class="d" cx="480.8" cy="580.3"/>
<circle class="s" cx="503.3" cy="588.9"/>
<circle class="s" cx="477.7" cy="626.0"/>
<circle class="b" cx="484.5" cy="615.5"/>
<circle class="d" cx="472.1" cy="563.5"/>
<circle class="d" cx="498.1" cy="604.5"/>
<circle class="s" cx="542.5" cy="554.3"/>
<circle class="d" cx="489.2" cy="487.8"/>
<circle class="s" cx="452.7" cy="619.3"/>
<circle class="d" cx="447.4" cy="612.5"/>
<circle class="b" cx="531.8" cy="623.1"/>
<circle class="d" cx="463.4" cy="615.0"/>
<circle class="s" cx="486.7" cy="620.0"/>
<circle class="s" cx="447.6" cy="588.3"/>
<circle class="b" cx="521.5" cy="555.0"/>
<circle class="b" cx="450.0" cy="564.4"/>
<circle class="b" cx="459.6" cy="606.6"/>
<circle class="b" cx="572.2" cy="606.1"/>
<circle class="d" cx="455.1" cy="624.6"/>
<circle class="b" cx="501.0" cy="574.1"/>
<circle class="s" cx="493.0" cy="550.3"/>
<circle class="s" cx="478.7" cy="581.4"/>
<circle class="s" cx="452.9" cy="595.0"/>
<circle class="b" cx="500.0" cy="546.0"/>
<circle class="s" cx="464.2" cy="558.9"/>
<circle class="d" cx="455.7" cy="506.1"/>
<circle class="b" cx="459.0" cy="645.7"/>
<circle class="s" cx="551.0" cy="577.5"/>
<circle class="d" cx="471.1" cy="498.2"/>
<circle class="d" cx="471.3" cy="577.7"/>
<circle class="d" cx="457.0" cy="562.3"/>
<circle class="d" cx="460.3" cy="573.1"/>
<circle class="s" cx="501.8" cy="598.9"/>
<circle class="s" cx="501.1" cy="618.6"/>
<circle class="b" cx="449.8" cy="603.3"/>
<circle class="s" cx="483.9" cy="643.7"/>
<circle class="s" cx="455.2" cy="617.6"/>
<circle class="s" cx="454.9" cy="527.0"/>
<circle class="b" cx="572.3" cy="569.7"/>
<circle class="s" cx="484.3" cy="547.4"/>
<circle class="s" cx="507.3" cy="566.1"/>
<circle class="b" cx="521.0" cy="535.5"/>
<circle class="d" cx="525.5" cy="599.8"/>
<circle class="d" cx="491.9" cy="579.6"/>
<circle class="d" cx="449.7" cy="633.4"/>
<circle class="s" cx="468.4" cy="557.3"/>
<circle class="s" cx="500.8" cy="622.3"/>
<circle class="s" cx="456.4" cy="620.2"/>
<circle class="b" cx="448.0" cy="596.9"/>
<circle class="s" cx="449.3" cy="583.5"/>
<circle class="s" cx="509.3" cy="625.6"/>
<circle class="d" cx="511.1" cy="564.6"/>
<circle class="d" cx="479.7" cy="549.0"/>
<circle class="d" cx="447.6" cy="616.1"/>
<circle class="b" cx="481.0" cy="551.4"/>
<circle class="s" cx="484.1" cy="545.1"/>
<circle class="s" cx="451.9" cy="623.5"/>
<circle class="b" cx="514.6" cy="607.4"/>
<circle class="d" cx="479.2" cy="470.1"/>
<circle class="b" cx="472.4" cy="596.4"/>
<circle class="d" cx="506.2" cy="604.4"/>
<circle class="s" cx="523.3" cy="537.7"/>
<circle class="s" cx="506.1" cy="597.4"/>
<circle class="s" cx="484.4" cy="614.2"/>
<circle class="s" cx="464.8" cy="470.7"/>
<circle class="d" cx="484.1" cy="586.6"/>
<circle class="d" cx="489.6" cy="621.4"/>
<circle class="d" cx="573.6" cy="604.5"/>
<circle class="b" cx="457.5" cy="556.6"/>
<circle class="s" cx="499.0" cy="496.6"/>
<circle class="s" cx="476.6" cy="617.9"/>
<circle class="s" cx="543.5" cy="617.2"/>
<circle class="s" cx="448.5" cy="527.7"/>
<circle class="s" cx="474.7" cy="584.0"/>
<circle class="d" cx="472.8" cy="625.7"/>
<circle class="d" cx="448.7" cy="483.1"/>
<circle class="s" cx="487.8" cy="607.5"/>
<circle class="s" cx="577.1" cy="612.1"/>
<circle class="s" cx="490.2" cy="533.2"/>
<circle class="b" cx="460.7" cy="647.9"/>
<circle class="b" cx="467.5" cy="586.6"/>
<circle class="d" cx="473.1" cy="607.2"/>
<circle class="s" cx="474.7" cy="549.7"/>
<circle class="b" cx="486.9" cy="575.1"/>
<circle class="d" cx="505.7" cy="618.2"/>
<circle class="s" cx="486.7" cy="529.5"/>
<circle class="s" cx="506.0" cy="559.8"/>
<circle class="d" cx="453.0" cy="618.6"/>
<circle class="s" cx="502.6" cy="587.8"/>
<circle class="d" cx="486.4" cy="553.5"/>
<circle class="d" cx="483.6" cy="611.4"/>
<circle class="s" cx="454.7" cy="553.1"/>
<circle class="s" cx="500.3" cy="633.6"/>
<circle class="d" cx="542.4" cy="532.5"/>
<circle class="d" cx="470.2" cy="636.1"/>
<circle class="d" cx="464.0" cy="579.5"/>
<circle class="d" cx="506.7" cy="556.7"/>
<circle class="s" cx="570.0" cy="608.8"/>
<circle class="s" cx="497.1" cy="553.1"/>
<circle class="b" cx="460.0" cy="498.3"/>
<circle class="b" cx="495.9" cy="580.9"/>
<circle class="s" cx="574.6" cy="599.8"/>
<circle class="d" cx="462.3" cy="520.6"/>
<circle class="d" cx="494.3" cy="627.4"/>
<circle class="b" cx="450.6" cy="497.3"/>
<circle class="d" cx="474.4" cy="524.5"/>
<circle class="d" cx="501.9" cy="619.2"/>
<circle class="d" cx="450.6" cy="495.8"/>
<circle class="s" cx="487.7" cy="613.6"/>
<circle class="s" cx="461.4" cy="610.0"/>
<circle class="d" cx="472.0" cy="571.5"/>
<circle class="b" cx="448.9" cy="649.7"/>
<circle class="s" cx="518.9" cy="490.7"/>
<circle class="d" cx="483.9" cy="641.6"/>
<circle class="s" cx="584.0" cy="612.3"/>
<circle class="d" cx="449.6" cy="542.6"/>
<circle class="d" cx="480.4" cy="610.6"/>
<circle class="d" cx="453.9" cy="530.4"/>
<circle class="d" cx="548.4" cy="610.8"/>
<circle class="d" cx="508.9" cy="613.1"/>
<circle class="s" cx="485.3" cy="582.1"/>
<circle class="s" cx="453.7" cy="564.5"/>
<circle class="b" cx="458.3" cy="597.7"/>
<circle class="b" cx="517.6" cy="595.8"/>
<circle class="d" cx="471.4" cy="623.5"/>
<circle class="s" cx="485.1" cy="525.1"/>
<circle class="d" cx="459.8" cy="599.3"/>
<circle class="s" cx="513.3" cy="613.6"/>
<circle class="s" cx="482.3" cy="631.1"/>
<circle class="s" cx="518.9" cy="543.2"/>
<circle class="d" cx="470.0" cy="573.0"/>
<circle class="s" cx="457.7" cy="597.1"/>
<circle class="s" cx="457.7" cy="607.0"/>
<circle class="s" cx="469.5" cy="615.9"/>
<circle class="b" cx="471.2" cy="560.2"/>
<circle class="b" cx="518.4" cy="548.9"/>
<circle class="s" cx="508.5" cy="619.3"/>
<circle class="d" cx="518.5" cy="595.3"/>
<circle class="s" cx="493.0" cy="525.3"/>
<circle class="b" cx="466.7" cy="640.2"/>
<circle class="s" cx="459.6" cy="611.4"/>
<circle class="b" cx="592.1" cy="612.8"/>
<circle class="s" cx="450.8" cy="583.3"/>
<circle class="b" cx="498.4" cy="620.9"/>
<circle class="s" cx="584.6" cy="599.1"/>
<circle class="d" cx="467.5" cy="563.6"/>
<circle class="d" cx="448.8" cy="592.6"/>
<circle class="d" cx="518.1" cy="504.6"/>
<circle class="d" cx="454.7" cy="503.7"/>
<circle class="s" cx="471.8" cy="518.4"/>
<circle class="b" cx="560.8" cy="570.3"/>
<circle class="d" cx="486.8" cy="611.4"/>
<circle class="s" cx="477.5" cy="627.6"/>
<circle class="s" cx="526.8" cy="597.3"/>
<circle class="s" cx="467.3" cy="594.9"/>
<circle class="s" cx="508.4" cy="547.7"/>
<circle class="s" cx="513.6" cy="571.7"/>
<circle class="s" cx="457.0" cy="595.3"/>
<circle class="s" cx="497.5" cy="534.2"/>
<circle class="b" cx="453.5" cy="630.4"/>
<circle class="b" cx="584.4" cy="603.8"/>
<circle class="d" cx="471.3" cy="512.2"/>
<circle class="s" cx="512.5" cy="614.3"/>
<circle class="d" cx="563.2" cy="572.8"/>
<circle class="d" cx="461.7" cy="526.1"/>
<circle class="s" cx="478.4" cy="573.0"/>
<circle class="s" cx="447.3" cy="510.9"/>
<circle class="d" cx="460.1" cy="607.7"/>
<circle class="s" cx="458.8" cy="648.6"/>
<circle class="d" cx="526.0" cy="588.8"/>
<circle class="d" cx="553.7" cy="539.5"/>
<circle class="b" cx="479.7" cy="615.9"/>
<circle class="s" cx="484.1" cy="621.6"/>
<circle class="d" cx="448.5" cy="538.6"/>
<circle class="d" cx="468.8" cy="550.7"/>
<circle class="s" cx="485.0" cy="528.1"/>
<circle class="b" cx="564.9" cy="611.0"/>
<circle class="s" cx="462.7" cy="564.4"/>
<circle class="d" cx="472.4" cy="577.5"/>
<circle class="d" cx="460.2" cy="548.0"/>
<circle class="b" cx="448.2" cy="585.5"/>
<circle class="d" cx="465.4" cy="601.3"/>
<circle class="d" cx="464.9" cy="570.0"/>
<circle class="s" cx="467.2" cy="466.4"/>
<circle class="s" cx="462.2" cy="628.1"/>
<circle class="d" cx="458.9" cy="515.2"/>
<circle class="s" cx="547.9" cy="513.4"/>
<circle class="d" cx="530.4" cy="594.4"/>
<circle class="s" cx="532.3" cy="609.8"/>
<circle class="s" cx="517.3" cy="607.8"/>
<circle class="s" cx="499.2" cy="631.1"/>
<circle class="s" cx="567.1" cy="616.9"/>
<circle class="s" cx="482.9" cy="605.8"/>
<circle class="s" cx="466.6" cy="631.3"/>
<circle class="b" cx="473.9" cy="579.3"/>
<circle class="s" cx="575.6" cy="594.3"/>
<circle class="d" cx="465.4" cy="454.5"/>
<circle class="s" cx="460.4" cy="515.9"/>
<circle class="d" cx="449.7" cy="556.2"/>
<circle class="s" cx="455.2" cy="598.2"/>
<circle class="s" cx="455.2" cy="649.0"/>
<circle class="s" cx="478.4" cy="576.5"/>
<circle class="s" cx="486.7" cy="572.2"/>
<circle class="s" cx="470.1" cy="524.0"/>
<circle class="s" cx="456.4" cy="571.6"/>
<circle class="s" cx="571.5" cy="593.4"/>
<circle class="s" cx="488.0" cy="590.3"/>
<circle class="s" cx="454.9" cy="576.1"/>
<circle class="s" cx="471.1" cy="545.0"/>
<circle class="s" cx="543.0" cy="596.1"/>
<circle class="s" cx="577.2" cy="610.6"/>
<circle class="d" cx="493.8" cy="522.5"/>
<circle class="b" cx="452.4" cy="598.9"/>
<circle class="s" cx="565.9" cy="544.2"/>
<circle class="d" cx="462.8" cy="591.5"/>
<circle class="s" cx="448.8" cy="587.9"/>
<circle class="b" cx="580.1" cy="553.9"/>
<circle class="d" cx="465.9" cy="573.7"/>
<circle class="b" cx="461.2" cy="509.6"/>
<circle class="d" cx="449.4" cy="594.4"/>
<circle class="b" cx="480.3" cy="609.7"/>
<circle class="s" cx="465.4" cy="619.4"/>
<circle class="s" cx="454.4" cy="565.2"/>
<circle class="d" cx="463.7" cy="647.3"/>
<circle class="s" cx="517.2" cy="543.0"/>
<circle class="s" cx="500.5" cy="627.1"/>
<circle class="d" cx="491.6" cy="538.3"/>
<circle class="d" cx="484.4" cy="608.1"/>
<circle class="d" cx="527.1" cy="572.0"/>
<circle class="s" cx="450.5" cy="446.5"/>
<circle class="s" cx="539.5" cy="559.4"/>
<circle class="b" cx="493.8" cy="585.0"/>
<circle class="s" cx="491.8" cy="619.4"/>
<circle class="s" cx="510.1" cy="541.3"/>
<circle class="s" cx="478.5" cy="616.0"/>
<circle class="d" cx="475.3" cy="588.1"/>
<circle class="b" cx="485.7" cy="558.1"/>
<circle class="d" cx="472.8" cy="473.0"/>
<circle class="d" cx="476.0" cy="534.1"/>
<circle class="s" cx="450.8" cy="556.3"/>
<circle class="d" cx="494.7" cy="580.5"/>
<circle class="s" cx="460.8" cy="582.7"/>
<circle class="s" cx="456.6" cy="559.2"/>
<circle class="s" cx="494.8" cy="595.4"/>
<circle class="s" cx="467.8" cy="628.2"/>
<circle class="s" cx="475.0" cy="507.0"/>
<circle class="b" cx="467.6" cy="473.1"/>
<circle class="s" cx="485.3" cy="613.6"/>
<circle class="s" cx="490.7" cy="594.3"/>
<circle class="s" cx="456.6" cy="558.2"/>
<circle class="s" cx="492.2" cy="613.1"/>
<circle class="d" cx="498.2" cy="601.7"/>
<circle class="s" cx="486.4" cy="642.8"/>
<circle class="d" cx="449.7" cy="562.2"/>
<circle class="s" cx="526.1" cy="608.2"/>
<circle class="s" cx="468.4" cy="592.4"/>
<circle class="d" cx="479.0" cy="590.4"/>
<circle class="d" cx="530.5" cy="621.9"/>
<circle class="s" cx="574.2" cy="605.8"/>
<circle class="d" cx="501.8" cy="623.0"/>
<circle class="b" cx="515.2" cy="607.7"/>
<circle class="s" cx="489.1" cy="591.0"/>
<circle class="b" cx="512.2" cy="621.4"/>
<circle class="s" cx="560.5" cy="550.6"/>
<circle class="s" cx="454.3" cy="534.0"/>
<circle class="d" cx="520.7" cy="591.3"/>
<circle class="b" cx="477.7" cy="626.1"/>
<circle class="s" cx="475.6" cy="600.2"/>
<circle class="b" cx="476.3" cy="593.4"/>
<circle class="s" cx="465.3" cy="603.9"/>
<circle class="s" cx="499.0" cy="599.8"/>
<circle class="b" cx="488.7" cy="593.8"/>
<circle class="d" cx="456.3" cy="568.8"/>
<circle class="s" cx="505.8" cy="546.4"/>
<circle class="b" cx="496.1" cy="640.1"/>
<circle class="d" cx="449.6" cy="618.9"/>
<circle class="b" cx="479.8" cy="598.2"/>
<circle class="b" cx="449.9" cy="533.3"/>
<circle class="s" cx="471.0" cy="630.2"/>
<circle class="s" cx="485.9" cy="515.0"/>
<circle class="s" cx="532.8" cy="511.0"/>
<circle class="s" cx="481.3" cy="611.3"/>
<circle class="d" cx="558.1" cy="616.4"/>
<circle class="b" cx="450.3" cy="580.7"/>
<circle class="b" cx="555.5" cy="575.2"/>
<circle class="d" cx="492.8" cy="467.6"/>
<circle class="b" cx="521.3" cy="547.3"/>
<circle class="s" cx="530.7" cy="603.7"/>
<circle class="s" cx="565.0" cy="599.4"/>
<circle class="s" cx="531.4" cy="602.3"/>
<circle class="d" cx="470.4" cy="533.2"/>
<circle class="s" cx="469.2" cy="606.3"/>
<circle class="s" cx="484.6" cy="633.0"/>
<circle class="s" cx="481.2" cy="533.3"/>
<circle class="d" cx="469.0" cy="499.9"/>
<circle class="s" cx="569.2" cy="609.5"/>
<circle class="d" cx="483.8" cy="527.1"/>
<circle class="d" cx="455.1" cy="466.6"/>
<circle class="s" cx="506.5" cy="624.1"/>
<circle class="d" cx="469.1" cy="622.9"/>
<circle class="s" cx="557.6" cy="545.4"/>
<circle class="b" cx="464.3" cy="594.5"/>
<circle class="d" cx="472.5" cy="566.6"/>
<circle class="s" cx="515.4" cy="557.5"/>
<circle class="d" cx="503.7" cy="606.1"/>
<circle class="s" cx="522.1" cy="519.9"/>
<circle class="d" cx="454.4" cy="629.3"/>
<circle class="s" cx="498.7" cy="622.2"/>
<circle class="d" cx="447.9" cy="601.6"/>
<circle class="s" cx="458.8" cy="601.3"/>
<circle class="s" cx="454.0" cy="560.3"/>
<circle class="s" cx="530.5" cy="551.6"/>
<circle class="s" cx="458.0" cy="578.7"/>
<circle class="s" cx="469.0" cy="578.2"/>
<circle class="b" cx="502.4" cy="614.0"/>
<circle class="d" cx="448.8" cy="545.8"/>
<circle class="s" cx="464.5" cy="626.9"/>
<circle class="s" cx="535.5" cy="553.9"/>
<circle class="b" cx="476.5" cy="557.4"/>
<circle class="d" cx="488.6" cy="609.6"/>
<circle class="s" cx="455.9" cy="622.8"/>
<circle class="s" cx="491.0" cy="610.1"/>
<circle class="s" cx="521.8" cy="586.7"/>
<circle class="b" cx="501.7" cy="534.1"/>
<circle class="s" cx="448.9" cy="559.2"/>
<circle class="d" cx="459.2" cy="585.9"/>
<circle class="d" cx="529.1" cy="616.7"/>
<circle class="b" cx="494.0" cy="556.7"/>
<circle class="s" cx="486.6" cy="558.4"/>
<circle class="s" cx="484.9" cy="557.6"/>
<circle class="d" cx="473.2" cy="641.6"/>
<circle class="s" cx="481.1" cy="634.5"/>
<circle class="s" cx="507.3" cy="531.5"/>
<circle class="b" cx="450.8" cy="566.2"/>
<circle class="d" cx="450.8" cy="571.2"/>
<circle class="d" cx="511.8" cy="611.8"/>
<circle class="s" cx="517.4" cy="574.6"/>
<circle class="d" cx="495.0" cy="539.7"/>
<circle class="s" cx="469.7" cy="537.2"/>
<circle class="d" cx="474.0" cy="482.3"/>
<circle class="b" cx="521.2" cy="575.8"/>
<circle class="s" cx="480.1" cy="642.6"/>
<circle class="b" cx="492.6" cy="515.2"/>
<circle class="d" cx="522.3" cy="510.7"/>
<circle class="s" cx="534.9" cy="573.1"/>
<circle class="d" cx="556.1" cy="557.3"/>
<circle class="d" cx="473.3" cy="554.1"/>
<circle class="d" cx="466.7" cy="556.0"/>
<circle class="d" cx="463.7" cy="620.9"/>
<circle class="s" cx="498.8" cy="590.3"/>
<circle class="b" cx="488.9" cy="539.0"/>
<circle class="s" cx="447.6" cy="647.0"/>
<circle class="d" cx="509.2" cy="621.3"/>
<circle class="s" cx="506.0" cy="502.3"/>
<circle class="d" cx="462.9" cy="580.8"/>
<circle class="d" cx="478.3" cy="623.9"/>
<circle class="d" cx="561.8" cy="584.7"/>
<circle class="s" cx="509.6" cy="628.7"/>
<circle class="s" cx="460.1" cy="622.6"/>
<circle class="s" cx="521.2" cy="604.5"/>
<circle class="d" cx="524.2" cy="539.2"/>
<circle class="s" cx="491.0" cy="561.7"/>
<circle class="d" cx="460.0" cy="651.1"/>
<circle class="s" cx="513.8" cy="554.6"/>
<circle class="s" cx="571.4" cy="601.5"/>
<circle class="d" cx="488.4" cy="616.4"/>
<circle class="s" cx="461.6" cy="582.1"/>
<circle class="d" cx="459.7" cy="603.3"/>
<circle class="s" cx="506.6" cy="605.5"/>
<circle class="d" cx="506.4" cy="581.8"/>
<circle class="b" cx="449.9" cy="556.7"/>
<circle class="d" cx="451.7" cy="525.7"/>
<circle class="s" cx="481.0" cy="579.1"/>
<circle class="d" cx="475.8" cy="507.9"/>
<circle class="b" cx="492.8" cy="592.2"/>
<circle class="d" cx="561.7" cy="560.5"/>
<circle class="b" cx="495.3" cy="630.0"/>
<circle class="d" cx="568.5" cy="619.3"/>
<circle class="b" cx="543.8" cy="607.6"/>
<circle class="b" cx="589.6" cy="615.0"/>
<circle class="s" cx="501.6" cy="621.9"/>
<circle class="d" cx="487.5" cy="608.2"/>
<circle class="d" cx="452.9" cy="531.9"/>
<circle class="s" cx="474.8" cy="614.6"/>
<circle class="d" cx="529.7" cy="540.2"/>
<circle class="d" cx="449.2" cy="575.4"/>
<circle class="b" cx="475.3" cy="562.2"/>
<circle class="s" cx="463.8" cy="521.0"/>
<circle class="s" cx="496.6" cy="603.3"/>
<circle class="s" cx="529.3" cy="521.6"/>
<circle class="s" cx="503.0" cy="633.3"/>
<circle class="d" cx="507.0" cy="624.2"/>
<circle class="s" cx="474.7" cy="503.9"/>
<circle class="s" cx="452.5" cy="498.9"/>
<circle class="d" cx="476.6" cy="627.7"/>
<circle class="d" cx="462.0" cy="598.6"/>
<circle class="d" cx="506.5" cy="555.9"/>
<circle class="d" cx="526.6" cy="581.5"/>
<circle class="s" cx="448.4" cy="547.2"/>
<circle class="s" cx="492.3" cy="531.0"/>
<circle class="b" cx="525.0" cy="618.3"/>
<circle class="b" cx="491.0" cy="614.3"/>
<circle class="s" cx="475.1" cy="605.1"/>
<circle class="b" cx="510.3" cy="622.8"/>
<circle class="d" cx="498.0" cy="619.5"/>
<circle class="b" cx="501.1" cy="628.7"/>
<circle class="s" cx="491.0" cy="569.6"/>
<circle class="s" cx="462.8" cy="625.8"/>
<circle class="s" cx="458.0" cy="597.8"/>
<circle class="s" cx="452.9" cy="518.7"/>
<circle class="s" cx="526.8" cy="544.8"/>
<circle class="s" cx="523.6" cy="605.3"/>
<circle class="s" cx="510.3" cy="584.1"/>
<circle class="s" cx="471.7" cy="607.3"/>
<circle class="s" cx="547.8" cy="605.0"/>
<circle class="b" cx="466.4" cy="589.1"/>
<circle class="d" cx="485.7" cy="629.9"/>
<circle class="b" cx="511.6" cy="574.0"/>
<circle class="b" cx="488.2" cy="552.0"/>
<circle class="d" cx="459.8" cy="620.5"/>
<circle class="b" cx="504.5" cy="606.5"/>
<circle class="d" cx="463.4" cy="496.2"/>
<circle class="d" cx="450.6" cy="503.4"/>
<circle class="d" cx="470.5" cy="614.3"/>
<circle class="d" cx="471.1" cy="581.7"/>
<circle class="d" cx="536.8" cy="514.6"/>
<circle class="s" cx="452.4" cy="559.9"/>
<circle class="d" cx="477.6" cy="516.3"/>
<circle class="s" cx="466.7" cy="522.5"/>
<circle class="d" cx="472.8" cy="456.5"/>
<circle class="s" cx="504.1" cy="613.5"/>
<circle class="s" cx="517.4" cy="587.1"/>
<circle class="d" cx="462.5" cy="558.1"/>
<circle class="d" cx="468.7" cy="571.8"/>
<circle class="d" cx="524.1" cy="594.2"/>
<circle class="s" cx="484.2" cy="513.3"/>
<circle class="b" cx="457.8" cy="622.1"/>
<circle class="b" cx="519.6" cy="617.4"/>
<circle class="b" cx="472.1" cy="560.4"/>
<circle class="s" cx="515.8" cy="590.0"/>
<circle class="s" cx="510.7" cy="605.4"/>
<circle class="s" cx="450.7" cy="530.2"/>
<circle class="b" cx="521.8" cy="570.7"/>
<circle class="s" cx="504.6" cy="580.3"/>
<circle class="d" cx="458.0" cy="624.5"/>
<circle class="b" cx="489.8" cy="598.3"/>
<circle class="b" cx="456.9" cy="504.6"/>
<circle class="s" cx="458.3" cy="585.7"/>
<circle class="b" cx="461.9" cy="596.3"/>
<circle class="d" cx="536.2" cy="564.1"/>
<circle class="s" cx="478.8" cy="597.3"/>
<circle class="d" cx="459.6" cy="575.4"/>
<circle class="d" cx="458.9" cy="589.7"/>
<circle class="d" cx="559.7" cy="599.7"/>
<circle class="b" cx="481.2" cy="633.9"/>
<circle class="d" cx="460.1" cy="590.7"/>
<circle class="s" cx="515.1" cy="527.8"/>
<circle class="s" cx="515.3" cy="603.0"/>
<circle class="s" cx="546.3" cy="529.1"/>
<circle class="b" cx="465.8" cy="627.8"/>
<circle class="s" cx="493.0" cy="554.2"/>
<circle class="s" cx="475.0" cy="613.7"/>
<circle class="d" cx="469.9" cy="561.8"/>
<circle class="s" cx="488.6" cy="457.8"/>
<circle class="d" cx="504.3" cy="588.0"/>
<circle class="s" cx="499.2" cy="598.3"/>
<circle class="s" cx="455.1" cy="550.4"/>
<circle class="s" cx="462.5" cy="561.6"/>
<circle class="s" cx="454.1" cy="602.1"/>
<circle class="s" cx="491.9" cy="580.4"/>
<circle class="b" cx="490.6" cy="553.8"/>
<circle class="b" cx="468.4" cy="631.0"/>
<circle class="s" cx="450.9" cy="445.9"/>
<circle class="d" cx="501.4" cy="608.9"/>
<circle class="d" cx="471.8" cy="525.9"/>
<circle class="b" cx="500.2" cy="585.1"/>
<circle class="d" cx="453.6" cy="607.6"/>
<circle class="d" cx="488.9" cy="553.0"/>
<circle class="d" cx="468.3" cy="574.7"/>
<circle class="s" cx="520.9" cy="571.4"/>
<circle class="s" cx="483.1" cy="596.4"/>
<circle class="d" cx="449.1" cy="633.7"/>
<circle class="d" cx="449.6" cy="644.8"/>
<circle class="d" cx="449.5" cy="567.8"/>
<circle class="b" cx="515.6" cy="611.1"/>
<circle class="b" cx="528.1" cy="561.3"/>
<circle class="d" cx="450.2" cy="605.0"/>
<circle class="s" cx="515.3" cy="602.7"/>
<circle class="s" cx="512.1" cy="563.8"/>
<circle class="s" cx="477.4" cy="514.9"/>
<circle class="d" cx="474.0" cy="559.5"/>
<circle class="s" cx="468.0" cy="517.4"/>
<circle class="b" cx="488.2" cy="542.8"/>
<circle class="d" cx="454.1" cy="504.9"/>
<circle class="b" cx="497.0" cy="564.5"/>
<circle class="s" cx="564.8" cy="545.9"/>
<circle class="s" cx="552.1" cy="611.8"/>
<circle class="d" cx="483.6" cy="638.0"/>
<circle class="d" cx="565.3" cy="593.2"/>
<circle class="s" cx="476.1" cy="498.6"/>
<circle class="b" cx="494.1" cy="535.3"/>
<circle class="s" cx="465.7" cy="584.3"/>
<circle class="d" cx="547.6" cy="610.5"/>
<circle class="b" cx="487.2" cy="621.5"/>
<circle class="b" cx="458.1" cy="579.3"/>
<circle class="s" cx="463.1" cy="642.8"/>
<circle class="d" cx="485.7" cy="507.8"/>
<circle class="s" cx="465.7" cy="645.4"/>
<circle class="d" cx="469.9" cy="486.1"/>
<circle class="d" cx="483.0" cy="599.7"/>
<circle class="d" cx="450.9" cy="616.5"/>
<circle class="d" cx="549.2" cy="568.3"/>
<circle class="d" cx="490.0" cy="578.3"/>
<circle class="s" cx="548.9" cy="589.5"/>
<circle class="s" cx="488.7" cy="629.7"/>
<circle class="s" cx="535.3" cy="611.7"/>
<circle class="s" cx="537.6" cy="605.4"/>
<circle class="d" cx="449.3" cy="590.1"/>
<circle class="s" cx="456.4" cy="567.0"/>
<circle class="s" cx="562.1" cy="565.1"/>
<circle class="b" cx="485.6" cy="533.8"/>
<circle class="d" cx="458.4" cy="565.8"/>
<circle class="b" cx="520.1" cy="556.1"/>
<circle class="d" cx="456.8" cy="570.4"/>
<circle class="b" cx="460.4" cy="620.4"/>
<circle class="d" cx="492.6" cy="476.7"/>
<circle class="s" cx="504.3" cy="583.8"/>
<circle class="d" cx="457.0" cy="601.8"/>
<circle class="s" cx="520.7" cy="625.1"/>
<circle class="b" cx="534.1" cy="603.5"/>
<circle class="b" cx="479.7" cy="558.6"/>
<circle class="d" cx="468.7" cy="502.2"/>
<circle class="s" cx="461.8" cy="554.6"/>
<circle class="s" cx="452.4" cy="588.5"/>
<circle class="b" cx="498.1" cy="626.6"/>
<circle class="d" cx="485.4" cy="589.5"/>
<circle class="d" cx="452.8" cy="611.4"/>
<circle class="d" cx="506.1" cy="510.8"/>
<circle class="b" cx="561.7" cy="612.8"/>
<circle class="s" cx="496.7" cy="588.5"/>
<circle class="s" cx="562.7" cy="593.4"/>
<circle class="d" cx="449.3" cy="530.1"/>
<circle class="d" cx="532.5" cy="515.0"/>
<circle class="s" cx="483.8" cy="537.5"/>
<circle class="b" cx="453.6" cy="631.8"/>
<circle class="d" cx="469.7" cy="645.0"/>
<circle class="d" cx="488.4" cy="451.5"/>
<circle class="b" cx="485.4" cy="605.0"/>
<circle class="d" cx="491.8" cy="572.3"/>
<circle class="d" cx="530.0" cy="573.7"/>
<circle class="d" cx="461.2" cy="576.0"/>
<circle class="d" cx="480.6" cy="508.8"/>
<circle class="s" cx="474.4" cy="636.8"/>
<circle class="d" cx="452.8" cy="507.0"/>
<circle class="b" cx="506.2" cy="628.0"/>
<circle class="d" cx="498.3" cy="631.7"/>
<circle class="d" cx="482.5" cy="614.7"/>
<circle class="s" cx="517.4" cy="600.4"/>
<circle class="s" cx="536.8" cy="535.0"/>
<circle class="d" cx="474.1" cy="619.5"/>
<circle class="s" cx="462.9" cy="612.3"/>
<circle class="d" cx="480.0" cy="579.0"/>
<circle class="d" cx="474.8" cy="458.4"/>
<circle class="s" cx="451.6" cy="492.9"/>
<circle class="d" cx="487.4" cy="622.9"/>
<circle class="d" cx="481.3" cy="612.8"/>
<circle class="b" cx="452.9" cy="540.8"/>
<circle class="d" cx="502.8" cy="633.4"/>
<circle class="s" cx="465.1" cy="609.9"/>
<circle class="b" cx="464.6" cy="573.7"/>
<circle class="s" cx="503.8" cy="589.4"/>
<circle class="b" cx="485.8" cy="636.1"/>
<circle class="s" cx="486.5" cy="611.0"/>
<circle class="s" cx="514.7" cy="597.0"/>
<circle class="d" cx="467.8" cy="540.7"/>
<circle class="d" cx="455.5" cy="610.7"/>
<circle class="b" cx="484.3" cy="616.9"/>
<circle class="d" cx="496.8" cy="630.1"/>
<circle class="s" cx="448.4" cy="502.7"/>
<circle class="d" cx="474.9" cy="603.4"/>
<circle class="d" cx="538.1" cy="609.4"/>
<circle class="s" cx="481.8" cy="578.7"/>
<circle class="b" cx="584.2" cy="535.1"/>
<circle class="b" cx="597.4" cy="540.6"/>
<circle class="s" cx="584.2" cy="568.9"/>
<circle class="b" cx="593.2" cy="571.9"/>
<circle class="b" cx="599.4" cy="570.7"/>
<circle class="b" cx="597.4" cy="574.1"/>
<circle class="d" cx="627.5" cy="577.1"/>
<circle class="s" cx="647.9" cy="575.1"/>
<circle class="s" cx="651.4" cy="575.1"/>
<circle class="b" cx="672.1" cy="573.7"/>
<circle class="b" cx="608.1" cy="586.1"/>
<circle class="s" cx="641.0" cy="588.3"/>
<circle class="b" cx="664.6" cy="587.8"/>
<circle class="s" cx="597.4" cy="592.6"/>
<circle class="s" cx="603.6" cy="593.8"/>
<circle class="d" cx="612.6" cy="593.8"/>
<circle class="s" cx="633.5" cy="593.8"/>
<circle class="s" cx="638.0" cy="594.8"/>
<circle class="b" cx="651.4" cy="593.1"/>
<circle class="b" cx="585.5" cy="596.3"/>
<circle class="s" cx="622.8" cy="597.5"/>
<circle class="s" cx="648.4" cy="598.5"/>
<circle class="s" cx="657.4" cy="599.5"/>
<circle class="s" cx="670.6" cy="597.8"/>
<circle class="b" cx="679.5" cy="599.0"/>
<circle class="b" cx="651.4" cy="602.3"/>
<circle class="d" cx="611.1" cy="600.0"/>
<circle class="b" cx="606.1" cy="601.0"/>
<circle class="s" cx="627.5" cy="605.3"/>
<circle class="s" cx="612.6" cy="608.7"/>
<circle class="d" cx="603.6" cy="609.0"/>
<circle class="s" cx="618.6" cy="612.0"/>
<circle class="s" cx="630.5" cy="611.5"/>
<circle class="s" cx="657.4" cy="611.5"/>
<circle class="b" cx="672.1" cy="610.2"/>
<circle class="d" cx="609.9" cy="614.5"/>
<circle class="d" cx="631.8" cy="615.9"/>
<circle class="s" cx="642.5" cy="615.5"/>
<circle class="s" cx="620.3" cy="612.7"/>
<circle class="d" cx="709.4" cy="612.7"/>
<circle class="s" cx="722.6" cy="611.5"/>
<circle class="s" cx="754.2" cy="608.0"/>
<circle class="b" cx="770.3" cy="607.5"/>
<circle class="s" cx="819.6" cy="599.5"/>
<circle class="b" cx="851.0" cy="597.8"/>
<circle class="b" cx="868.6" cy="597.0"/>
<circle class="b" cx="457.3" cy="83.8"/>
<circle class="b" cx="459.1" cy="83.8"/>
<circle class="b" cx="465.5" cy="83.8"/>
<circle class="b" cx="467.3" cy="83.8"/>
<circle class="s" cx="469.1" cy="83.8"/>
<circle class="d" cx="471.4" cy="83.8"/>
<circle class="d" cx="460.7" cy="88.6"/>
<circle class="d" cx="478.6" cy="110.9"/>
<circle class="d" cx="453.2" cy="155.1"/>
<circle class="d" cx="462.2" cy="156.4"/>
<circle class="d" cx="468.1" cy="166.4"/>
<circle class="d" cx="462.2" cy="181.5"/>
<circle class="d" cx="453.2" cy="188.9"/>
<circle class="d" cx="466.3" cy="196.6"/>
<circle class="d" cx="456.1" cy="205.0"/>
<circle class="d" cx="457.6" cy="209.1"/>
<circle class="d" cx="466.3" cy="205.8"/>
<circle class="s" cx="471.2" cy="215.2"/>
<circle class="d" cx="457.6" cy="220.1"/>
<circle class="d" cx="484.5" cy="227.0"/>
<circle class="d" cx="468.1" cy="236.0"/>
<circle class="d" cx="453.2" cy="255.7"/>
<circle class="d" cx="453.1" cy="255.9"/>
<circle class="d" cx="466.7" cy="262.5"/>
<circle class="d" cx="462.1" cy="268.9"/>
<circle class="b" cx="475.4" cy="273.0"/>
<circle class="d" cx="456.2" cy="280.4"/>
<circle class="b" cx="455.2" cy="284.0"/>
<circle class="b" cx="455.2" cy="286.0"/>
<circle class="d" cx="462.1" cy="300.1"/>
<circle class="d" cx="469.5" cy="298.8"/>
<circle class="d" cx="457.5" cy="310.1"/>
<circle class="d" cx="463.6" cy="309.1"/>
<circle class="d" cx="466.7" cy="308.5"/>
<circle class="d" cx="450.1" cy="329.8"/>
<circle class="d" cx="456.2" cy="326.4"/>
<circle class="d" cx="462.1" cy="326.4"/>
<circle class="d" cx="466.7" cy="325.4"/>
<circle class="d" cx="456.2" cy="332.6"/>
<circle class="d" cx="463.6" cy="332.6"/>
<circle class="d" cx="474.1" cy="330.8"/>
<circle class="d" cx="463.6" cy="339.5"/>
<circle class="d" cx="457.5" cy="344.1"/>
<circle class="s" cx="453.1" cy="347.9"/>
<circle class="s" cx="451.6" cy="349.0"/>
<circle class="d" cx="465.2" cy="355.6"/>
<circle class="d" cx="472.6" cy="352.3"/>
<circle class="d" cx="481.5" cy="355.3"/>
<circle class="d" cx="465.2" cy="359.4"/>
<circle class="d" cx="474.1" cy="362.0"/>
<circle class="d" cx="478.5" cy="363.8"/>
<circle class="d" cx="462.1" cy="365.8"/>
<circle class="d" cx="480.0" cy="368.9"/>
<circle class="d" cx="471.0" cy="373.8"/>
<circle class="d" cx="463.6" cy="376.3"/>
<circle class="s" cx="451.6" cy="378.6"/>
<circle class="s" cx="453.1" cy="380.2"/>
<circle class="s" cx="456.2" cy="381.7"/>
<circle class="d" cx="471.0" cy="382.2"/>
<circle class="d" cx="457.5" cy="384.5"/>
<circle class="d" cx="460.5" cy="385.8"/>
<circle class="d" cx="454.7" cy="389.1"/>
<circle class="d" cx="474.1" cy="387.8"/>
<circle class="d" cx="472.6" cy="390.1"/>
<circle class="d" cx="462.1" cy="390.9"/>
<circle class="d" cx="468.0" cy="393.2"/>
<circle class="d" cx="459.0" cy="394.2"/>
<circle class="s" cx="450.1" cy="397.0"/>
<circle class="d" cx="462.1" cy="398.1"/>
<circle class="d" cx="465.2" cy="400.1"/>
<circle class="d" cx="468.0" cy="401.1"/>
<circle class="d" cx="451.6" cy="401.9"/>
<circle class="d" cx="474.1" cy="402.7"/>
<circle class="d" cx="469.5" cy="404.2"/>
<circle class="d" cx="454.7" cy="405.7"/>
<circle class="d" cx="465.2" cy="406.2"/>
<circle class="d" cx="462.1" cy="408.5"/>
<circle class="d" cx="474.1" cy="408.3"/>
<circle class="d" cx="451.6" cy="410.8"/>
<circle class="s" cx="451.6" cy="416.0"/>
<circle class="s" cx="459.0" cy="417.7"/>
<circle class="s" cx="480.0" cy="417.7"/>
<circle class="d" cx="453.1" cy="420.3"/>
<circle class="s" cx="460.5" cy="420.3"/>
<circle class="s" cx="482.8" cy="424.4"/>
<circle class="b" cx="453.1" cy="428.5"/>
<circle class="d" cx="468.0" cy="428.2"/>
<circle class="d" cx="474.1" cy="429.5"/>
<circle class="d" cx="462.1" cy="430.5"/>
<circle class="d" cx="478.5" cy="430.5"/>
<circle class="d" cx="480.0" cy="431.3"/>
<circle class="d" cx="459.0" cy="432.1"/>
<circle class="d" cx="468.0" cy="433.1"/>
<circle class="d" cx="465.2" cy="436.9"/>
<circle class="d" cx="471.0" cy="438.2"/>
<circle class="d" cx="481.5" cy="439.0"/>
</g>
<circle cx="499.800" cy="446.200" style="fill:#5ad08a;fill-opacity:1"/>
<g font-size="14" fill="#5ad08a" text-anchor="middle">
<text x="551.500" y="370.900">N: 40</text><text x="551.500" y="391.900">HR.pfs: 3.7</text><text x="551.500" y="411.800">albuming : Low</text><text x="551.500" y="432.600">cholg : High</text><text x="551.500" y="452.500">ascitesg : No</text>
</g>
<rect x="1021.500" y="587.500" width="28" height="15" rx="2" fill="#265d80" stroke="#b4cbdc" stroke-width="0.9"/>
<line x1="411" y1="594.500" x2="1066" y2="594.500" stroke="#2a8fd0" stroke-opacity="0.5" stroke-width="1.2"/>
<text x="1035.600" y="598.900" font-size="10.500" fill="#efefef" text-anchor="middle" letter-spacing="0.3">1.11</text>
<path d="M411.500 56V682.500H1066" fill="none" stroke="#f2f2f2" stroke-width="1.1"/>
</svg>
<!-- ===== RIGHT PANEL ===== -->
<svg class="abs" style="left:1095px;top:5px;" width="30" height="25" viewBox="1095 5 30 25"><path d="M1101.900 11.100V21.500Q1101.900 23 1103.400 23H1115.600" fill="none" stroke="#c2c9d0" stroke-width="2.100" stroke-linecap="round"/><path d="M1104.400 19.200L1107.700 14.800L1110.300 17.300L1114.500 13.200" fill="none" stroke="#b4bbc2" stroke-width="1.700" stroke-linecap="round" stroke-linejoin="round"/></svg>
<div class="t" style="left:1121px;top:7px;">Interaction Plot</div>
<svg class="abs" style="left:1100px;top:44px;" width="17" height="17" viewBox="1100 44 17 17"><path d="M1104.200 48L1112.400 56.200M1112.400 48L1104.200 56.200" fill="none" stroke="#fff" stroke-width="2.100" stroke-linecap="round"/></svg>
<div class="t" style="left:1121px;top:42px;">Legend</div>
<div class="dot" style="left:1100px;top:79.5px;width:15px;height:15px;background:#c8c8c8;"></div>
<div class="t" style="left:1119px;top:77px;">1-factor level subgroups</div>
<div class="dot" style="left:1100px;top:109.2px;width:15px;height:15px;background:#c8c8c8;"></div>
<div class="t" style="left:1119px;top:107px;">2-factor level subgroups</div>
<div class="dot" style="left:1100px;top:139px;width:15px;height:15px;background:#999;"></div>
<div class="t" style="left:1119px;top:137px;">3-factor level subgroups</div>
<div class="dot" style="left:1100px;top:169px;width:15px;height:15px;background:#57d18b;"></div>
<div class="t" style="left:1119px;top:167px;">Memorized subgroup(s)</div>

<!-- ===== BOTTOM TABS ===== -->
<div class="hline" style="left:7px;top:748px;width:1279px;"></div>
<div class="tabact" style="left:882px;top:707px;width:191px;height:42px;background:#383838;"></div>
<div class="dot" style="left:23px;top:721px;width:14px;height:14px;background:#e6003d;"></div>
<div class="t blue" style="left:41px;top:718px;">Selected Subgroups</div>
<svg class="abs" style="left:198px;top:718px;" width="20" height="20" viewBox="198 718 20 20"><path d="M201.700 721.100H214.300Q215.500 721.200 214.900 722.300L210.200 728.900V733.700Q210.100 734.500 209.300 734.100L206.200 732.300Q205.800 732 205.800 731.500V728.900L201.100 722.300Q200.500 721.200 201.700 721.100Z" fill="#86d624"/></svg>
<div class="t blue" style="left:219px;top:718px;">Filtered Subgroups</div>
<svg class="abs" style="left:368px;top:719px;" width="22" height="18" viewBox="368 719 22 18"><g fill="#ff7500"><rect x="376.800" y="721" width="5" height="4.900" rx="1.1"/><rect x="370.900" y="729.800" width="4.900" height="4.300" rx="1.1"/><rect x="376.900" y="729.800" width="4.700" height="4.300" rx="1"/><rect x="382.500" y="729.800" width="4.800" height="4.300" rx="1.1"/></g><path d="M379.300 725.500V730M373.400 730.200V728.600Q373.400 727.700 374.300 727.700H384.100Q385 727.700 385 728.600V730.200" fill="none" stroke="#ff7500" stroke-width="1.600"/></svg>
<div class="t blue" style="left:391px;top:718px;">Parent Subgroups</div>
<svg class="abs" style="left:536px;top:719px;" width="20" height="18" viewBox="536 719 20 18"><g fill="#0b57ec"><rect x="537.900" y="721.85" width="3.200" height="3.100" rx=".5"/><rect x="542.200" y="722.30" width="10" height="2.200" rx="1"/><rect x="537.900" y="726.20" width="3.200" height="3.100" rx=".5"/><rect x="542.200" y="726.65" width="10" height="2.200" rx="1"/><rect x="537.900" y="730.55" width="3.200" height="3.100" rx=".5"/><rect x="542.200" y="731.00" width="10" height="2.200" rx="1"/></g></svg>
<div class="t blue" style="left:555.5px;top:718px;">Factorial Contexts</div>
<svg class="abs" style="left:702px;top:720.100px;" width="15" height="15" viewBox="0 0 15 15"><circle cx="7.500" cy="7.600" r="7.400" fill="#fcfc00"/><path d="M5.300 5.300L9.500 9.500M9.500 5.300L5.300 9.500" stroke="#444" stroke-width="1.100" stroke-linecap="round"/></svg>
<div class="t blue" style="left:720px;top:718px;">Subgroup Complement</div>
<svg class="abs" style="left:895px;top:718px;" width="20" height="20" viewBox="895 718 20 20"><path d="M904.800 723H901.400a2.100 2.100 0 0 0-2.100 2.100V731.800a2.100 2.100 0 0 0 2.100 2.100H907.800a2.100 2.100 0 0 0 2.100-2.100V729.200" fill="none" stroke="#fff" stroke-width="1.900" stroke-linecap="round"/><path d="M902.300 731.300L903.100 728.100L909.200 721.900Q909.900 721.200 910.700 721.900L911.700 722.900Q912.400 723.700 911.700 724.400L905.500 730.500Z" fill="#383838" stroke="#fff" stroke-width="1.300" stroke-linejoin="round"/></svg>
<div class="t" style="left:916px;top:718px;">Memorized Subgroups</div>
<div class="abs" style="left:22px;top:750px;width:28.2px;height:16px;border:1.3px solid #56b8d6;border-radius:8px;"></div>
<div class="dot" style="left:37.8px;top:751.6px;width:12.4px;height:13.2px;background:#5bc0de;"></div>
<div class="t" style="left:57px;top:749px;">Show labels for memorized subgroups</div>

</div>
</body>
</html>
